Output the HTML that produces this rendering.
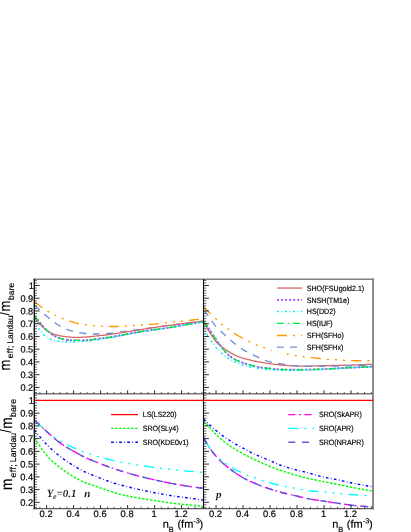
<!DOCTYPE html>
<html><head><meta charset="utf-8"><title>chart</title>
<style>html,body{margin:0;padding:0;background:#fff;}body{width:411px;height:532px;overflow:hidden;position:relative;font-family:"Liberation Sans",sans-serif;}</style>
</head><body>
<svg width="411" height="532" viewBox="0 0 411 532" style="position:absolute;left:0;top:0;will-change:transform" text-rendering="geometricPrecision">
<defs>
<clipPath id="cTL"><rect x="34.2" y="279.3" width="169.39999999999998" height="114.5"/></clipPath>
<clipPath id="cTR"><rect x="203.6" y="279.3" width="169.4" height="114.5"/></clipPath>
<clipPath id="cBL"><rect x="34.2" y="393.8" width="169.39999999999998" height="114.55000000000001"/></clipPath>
<clipPath id="cBR"><rect x="203.6" y="393.8" width="169.4" height="114.55000000000001"/></clipPath>
</defs>
<rect x="0" y="0" width="411" height="532" fill="#fff"/>
<path d="M34.4,305.00 L35.4,305.97 L36.4,306.93 L37.4,307.88 L38.4,308.82 L39.4,309.75 L40.4,310.67 L41.4,311.57 L42.4,312.46 L43.4,313.34 L44.4,314.20 L45.4,315.06 L46.4,315.90 L47.4,316.73 L48.4,317.57 L49.4,318.40 L50.4,319.24 L51.4,320.06 L52.4,320.87 L53.4,321.66 L54.4,322.42 L55.4,323.14 L56.4,323.83 L57.4,324.48 L58.4,325.08 L59.4,325.65 L60.4,326.22 L61.4,326.77 L62.4,327.31 L63.4,327.82 L64.4,328.32 L65.4,328.78 L66.4,329.22 L67.4,329.62 L68.4,329.99 L69.4,330.32 L70.4,330.61 L71.4,330.89 L72.4,331.16 L73.4,331.42 L74.4,331.67 L75.4,331.90 L76.4,332.13 L77.4,332.34 L78.4,332.54 L79.4,332.72 L80.4,332.89 L81.4,333.04 L82.4,333.18 L83.4,333.29 L84.4,333.39 L85.4,333.48 L86.4,333.56 L87.4,333.64 L88.4,333.72 L89.4,333.79 L90.4,333.85 L91.4,333.91 L92.4,333.95 L93.4,333.98 L94.4,334.00 L95.4,334.00 L96.4,333.99 L97.4,333.97 L98.4,333.95 L99.4,333.91 L100.4,333.87 L101.4,333.82 L102.4,333.77 L103.4,333.71 L104.4,333.65 L105.4,333.59 L106.4,333.52 L107.4,333.45 L108.4,333.38 L109.4,333.31 L110.4,333.24 L111.4,333.15 L112.4,333.06 L113.4,332.95 L114.4,332.83 L115.4,332.71 L116.4,332.58 L117.4,332.44 L118.4,332.30 L119.4,332.16 L120.4,332.02 L121.4,331.88 L122.4,331.74 L123.4,331.61 L124.4,331.47 L125.4,331.34 L126.4,331.21 L127.4,331.07 L128.4,330.94 L129.4,330.80 L130.4,330.66 L131.4,330.52 L132.4,330.38 L133.4,330.25 L134.4,330.11 L135.4,329.97 L136.4,329.83 L137.4,329.69 L138.4,329.55 L139.4,329.42 L140.4,329.28 L141.4,329.15 L142.4,329.02 L143.4,328.88 L144.4,328.75 L145.4,328.62 L146.4,328.48 L147.4,328.35 L148.4,328.22 L149.4,328.08 L150.4,327.95 L151.4,327.81 L152.4,327.67 L153.4,327.54 L154.4,327.40 L155.4,327.26 L156.4,327.12 L157.4,326.98 L158.4,326.84 L159.4,326.71 L160.4,326.57 L161.4,326.43 L162.4,326.30 L163.4,326.16 L164.4,326.03 L165.4,325.89 L166.4,325.76 L167.4,325.63 L168.4,325.50 L169.4,325.37 L170.4,325.24 L171.4,325.11 L172.4,324.98 L173.4,324.85 L174.4,324.72 L175.4,324.59 L176.4,324.46 L177.4,324.33 L178.4,324.20 L179.4,324.07 L180.4,323.94 L181.4,323.81 L182.4,323.68 L183.4,323.54 L184.4,323.41 L185.4,323.28 L186.4,323.14 L187.4,323.01 L188.4,322.88 L189.4,322.75 L190.4,322.62 L191.4,322.50 L192.4,322.37 L193.4,322.25 L194.4,322.13 L195.4,322.01 L196.4,321.89 L197.4,321.78 L198.4,321.67 L199.4,321.55 L200.4,321.44 L201.4,321.33 L202.4,321.23 L203.4,321.12 L203.6,321.10" fill="none" stroke="#6f8fd8" stroke-width="1.35" stroke-dasharray="7.140 6.324" clip-path="url(#cTL)"/>
<path d="M34.4,301.60 L35.4,302.40 L36.4,303.20 L37.4,303.98 L38.4,304.74 L39.4,305.49 L40.4,306.22 L41.4,306.94 L42.4,307.63 L43.4,308.30 L44.4,308.97 L45.4,309.64 L46.4,310.29 L47.4,310.94 L48.4,311.57 L49.4,312.19 L50.4,312.80 L51.4,313.38 L52.4,313.95 L53.4,314.49 L54.4,315.01 L55.4,315.50 L56.4,315.97 L57.4,316.43 L58.4,316.88 L59.4,317.31 L60.4,317.73 L61.4,318.14 L62.4,318.54 L63.4,318.93 L64.4,319.31 L65.4,319.67 L66.4,320.03 L67.4,320.37 L68.4,320.71 L69.4,321.03 L70.4,321.35 L71.4,321.65 L72.4,321.95 L73.4,322.24 L74.4,322.53 L75.4,322.80 L76.4,323.05 L77.4,323.29 L78.4,323.51 L79.4,323.70 L80.4,323.88 L81.4,324.06 L82.4,324.23 L83.4,324.40 L84.4,324.57 L85.4,324.72 L86.4,324.88 L87.4,325.02 L88.4,325.16 L89.4,325.28 L90.4,325.40 L91.4,325.51 L92.4,325.60 L93.4,325.69 L94.4,325.76 L95.4,325.82 L96.4,325.88 L97.4,325.94 L98.4,325.99 L99.4,326.05 L100.4,326.10 L101.4,326.15 L102.4,326.20 L103.4,326.24 L104.4,326.29 L105.4,326.33 L106.4,326.36 L107.4,326.39 L108.4,326.42 L109.4,326.45 L110.4,326.47 L111.4,326.48 L112.4,326.49 L113.4,326.50 L114.4,326.50 L115.4,326.49 L116.4,326.47 L117.4,326.44 L118.4,326.41 L119.4,326.37 L120.4,326.32 L121.4,326.27 L122.4,326.21 L123.4,326.14 L124.4,326.08 L125.4,326.01 L126.4,325.94 L127.4,325.87 L128.4,325.80 L129.4,325.72 L130.4,325.65 L131.4,325.59 L132.4,325.52 L133.4,325.46 L134.4,325.40 L135.4,325.34 L136.4,325.29 L137.4,325.24 L138.4,325.19 L139.4,325.13 L140.4,325.08 L141.4,325.03 L142.4,324.98 L143.4,324.92 L144.4,324.86 L145.4,324.81 L146.4,324.75 L147.4,324.68 L148.4,324.61 L149.4,324.54 L150.4,324.47 L151.4,324.39 L152.4,324.30 L153.4,324.20 L154.4,324.10 L155.4,324.00 L156.4,323.89 L157.4,323.77 L158.4,323.66 L159.4,323.54 L160.4,323.43 L161.4,323.31 L162.4,323.19 L163.4,323.08 L164.4,322.97 L165.4,322.86 L166.4,322.76 L167.4,322.66 L168.4,322.56 L169.4,322.46 L170.4,322.36 L171.4,322.26 L172.4,322.17 L173.4,322.07 L174.4,321.97 L175.4,321.88 L176.4,321.78 L177.4,321.68 L178.4,321.58 L179.4,321.48 L180.4,321.38 L181.4,321.27 L182.4,321.17 L183.4,321.06 L184.4,320.95 L185.4,320.84 L186.4,320.72 L187.4,320.60 L188.4,320.49 L189.4,320.37 L190.4,320.25 L191.4,320.13 L192.4,320.01 L193.4,319.90 L194.4,319.78 L195.4,319.66 L196.4,319.55 L197.4,319.44 L198.4,319.33 L199.4,319.22 L200.4,319.12 L201.4,319.02 L202.4,318.92 L203.4,318.82 L203.6,318.80" fill="none" stroke="#ff9900" stroke-width="1.35" stroke-dasharray="10.1 6 2.1 5.9 2.1 5.9 2.1 5.9" clip-path="url(#cTL)"/>
<path d="M34.4,317.50 L35.4,318.80 L36.4,320.06 L37.4,321.27 L38.4,322.44 L39.4,323.55 L40.4,324.61 L41.4,325.64 L42.4,326.66 L43.4,327.65 L44.4,328.58 L45.4,329.44 L46.4,330.20 L47.4,330.85 L48.4,331.46 L49.4,332.03 L50.4,332.57 L51.4,333.07 L52.4,333.54 L53.4,333.95 L54.4,334.32 L55.4,334.64 L56.4,334.92 L57.4,335.18 L58.4,335.42 L59.4,335.64 L60.4,335.84 L61.4,336.02 L62.4,336.18 L63.4,336.32 L64.4,336.45 L65.4,336.57 L66.4,336.69 L67.4,336.81 L68.4,336.92 L69.4,337.02 L70.4,337.12 L71.4,337.20 L72.4,337.28 L73.4,337.33 L74.4,337.37 L75.4,337.40 L76.4,337.40 L77.4,337.39 L78.4,337.37 L79.4,337.34 L80.4,337.30 L81.4,337.26 L82.4,337.21 L83.4,337.16 L84.4,337.10 L85.4,337.05 L86.4,336.99 L87.4,336.92 L88.4,336.83 L89.4,336.73 L90.4,336.63 L91.4,336.51 L92.4,336.39 L93.4,336.28 L94.4,336.16 L95.4,336.06 L96.4,335.95 L97.4,335.85 L98.4,335.75 L99.4,335.64 L100.4,335.54 L101.4,335.44 L102.4,335.33 L103.4,335.23 L104.4,335.12 L105.4,335.01 L106.4,334.89 L107.4,334.77 L108.4,334.65 L109.4,334.53 L110.4,334.39 L111.4,334.25 L112.4,334.11 L113.4,333.96 L114.4,333.80 L115.4,333.64 L116.4,333.48 L117.4,333.31 L118.4,333.15 L119.4,332.98 L120.4,332.81 L121.4,332.65 L122.4,332.48 L123.4,332.32 L124.4,332.17 L125.4,332.02 L126.4,331.87 L127.4,331.72 L128.4,331.57 L129.4,331.42 L130.4,331.27 L131.4,331.13 L132.4,330.98 L133.4,330.83 L134.4,330.68 L135.4,330.53 L136.4,330.38 L137.4,330.22 L138.4,330.06 L139.4,329.90 L140.4,329.74 L141.4,329.57 L142.4,329.39 L143.4,329.22 L144.4,329.04 L145.4,328.87 L146.4,328.70 L147.4,328.52 L148.4,328.36 L149.4,328.19 L150.4,328.04 L151.4,327.88 L152.4,327.73 L153.4,327.58 L154.4,327.43 L155.4,327.29 L156.4,327.14 L157.4,327.00 L158.4,326.86 L159.4,326.72 L160.4,326.58 L161.4,326.44 L162.4,326.30 L163.4,326.16 L164.4,326.03 L165.4,325.89 L166.4,325.76 L167.4,325.62 L168.4,325.49 L169.4,325.36 L170.4,325.23 L171.4,325.10 L172.4,324.97 L173.4,324.85 L174.4,324.72 L175.4,324.59 L176.4,324.46 L177.4,324.33 L178.4,324.20 L179.4,324.07 L180.4,323.94 L181.4,323.81 L182.4,323.68 L183.4,323.54 L184.4,323.41 L185.4,323.28 L186.4,323.14 L187.4,323.01 L188.4,322.88 L189.4,322.75 L190.4,322.62 L191.4,322.50 L192.4,322.37 L193.4,322.25 L194.4,322.13 L195.4,322.01 L196.4,321.89 L197.4,321.78 L198.4,321.67 L199.4,321.55 L200.4,321.44 L201.4,321.33 L202.4,321.23 L203.4,321.12 L203.6,321.10" fill="none" stroke="#d46a6a" stroke-width="1.3" clip-path="url(#cTL)"/>
<path d="M34.4,316.20 L35.4,317.36 L36.4,318.52 L37.4,319.68 L38.4,320.83 L39.4,321.98 L40.4,323.13 L41.4,324.32 L42.4,325.53 L43.4,326.75 L44.4,327.93 L45.4,329.04 L46.4,330.06 L47.4,330.94 L48.4,331.78 L49.4,332.58 L50.4,333.34 L51.4,334.05 L52.4,334.72 L53.4,335.34 L54.4,335.90 L55.4,336.41 L56.4,336.86 L57.4,337.31 L58.4,337.73 L59.4,338.12 L60.4,338.48 L61.4,338.80 L62.4,339.08 L63.4,339.30 L64.4,339.46 L65.4,339.61 L66.4,339.76 L67.4,339.89 L68.4,340.01 L69.4,340.13 L70.4,340.22 L71.4,340.30 L72.4,340.35 L73.4,340.39 L74.4,340.40 L75.4,340.40 L76.4,340.40 L77.4,340.39 L78.4,340.39 L79.4,340.38 L80.4,340.37 L81.4,340.36 L82.4,340.35 L83.4,340.34 L84.4,340.33 L85.4,340.31 L86.4,340.30 L87.4,340.25 L88.4,340.16 L89.4,340.04 L90.4,339.90 L91.4,339.75 L92.4,339.59 L93.4,339.43 L94.4,339.28 L95.4,339.15 L96.4,339.02 L97.4,338.90 L98.4,338.78 L99.4,338.65 L100.4,338.53 L101.4,338.41 L102.4,338.28 L103.4,338.16 L104.4,338.03 L105.4,337.90 L106.4,337.76 L107.4,337.62 L108.4,337.48 L109.4,337.33 L110.4,337.17 L111.4,337.01 L112.4,336.84 L113.4,336.66 L114.4,336.48 L115.4,336.29 L116.4,336.10 L117.4,335.91 L118.4,335.71 L119.4,335.51 L120.4,335.32 L121.4,335.13 L122.4,334.93 L123.4,334.75 L124.4,334.56 L125.4,334.38 L126.4,334.20 L127.4,334.02 L128.4,333.83 L129.4,333.65 L130.4,333.47 L131.4,333.29 L132.4,333.10 L133.4,332.93 L134.4,332.75 L135.4,332.57 L136.4,332.40 L137.4,332.23 L138.4,332.07 L139.4,331.90 L140.4,331.74 L141.4,331.58 L142.4,331.43 L143.4,331.28 L144.4,331.12 L145.4,330.97 L146.4,330.83 L147.4,330.68 L148.4,330.53 L149.4,330.39 L150.4,330.24 L151.4,330.10 L152.4,329.96 L153.4,329.83 L154.4,329.69 L155.4,329.56 L156.4,329.43 L157.4,329.30 L158.4,329.16 L159.4,329.03 L160.4,328.90 L161.4,328.76 L162.4,328.62 L163.4,328.48 L164.4,328.33 L165.4,328.18 L166.4,328.03 L167.4,327.87 L168.4,327.71 L169.4,327.55 L170.4,327.38 L171.4,327.22 L172.4,327.05 L173.4,326.88 L174.4,326.71 L175.4,326.54 L176.4,326.37 L177.4,326.20 L178.4,326.03 L179.4,325.87 L180.4,325.70 L181.4,325.53 L182.4,325.36 L183.4,325.18 L184.4,325.01 L185.4,324.84 L186.4,324.67 L187.4,324.49 L188.4,324.32 L189.4,324.15 L190.4,323.98 L191.4,323.80 L192.4,323.64 L193.4,323.47 L194.4,323.30 L195.4,323.13 L196.4,322.97 L197.4,322.80 L198.4,322.64 L199.4,322.48 L200.4,322.32 L201.4,322.15 L202.4,321.99 L203.4,321.83 L203.6,321.80" fill="none" stroke="#a550ff" stroke-width="1.9" stroke-dasharray="2.1 1.95" clip-path="url(#cTL)"/>
<path d="M34.4,321.20 L35.4,323.07 L36.4,324.86 L37.4,326.54 L38.4,328.11 L39.4,329.55 L40.4,330.85 L41.4,332.07 L42.4,333.25 L43.4,334.36 L44.4,335.37 L45.4,336.27 L46.4,337.02 L47.4,337.63 L48.4,338.17 L49.4,338.68 L50.4,339.15 L51.4,339.57 L52.4,339.95 L53.4,340.27 L54.4,340.55 L55.4,340.76 L56.4,340.94 L57.4,341.11 L58.4,341.27 L59.4,341.42 L60.4,341.57 L61.4,341.69 L62.4,341.81 L63.4,341.91 L64.4,341.99 L65.4,342.05 L66.4,342.09 L67.4,342.10 L68.4,342.10 L69.4,342.09 L70.4,342.07 L71.4,342.04 L72.4,342.01 L73.4,341.98 L74.4,341.94 L75.4,341.89 L76.4,341.85 L77.4,341.80 L78.4,341.74 L79.4,341.69 L80.4,341.64 L81.4,341.58 L82.4,341.52 L83.4,341.45 L84.4,341.37 L85.4,341.28 L86.4,341.19 L87.4,341.09 L88.4,340.98 L89.4,340.87 L90.4,340.76 L91.4,340.64 L92.4,340.52 L93.4,340.40 L94.4,340.27 L95.4,340.15 L96.4,340.02 L97.4,339.89 L98.4,339.75 L99.4,339.60 L100.4,339.45 L101.4,339.29 L102.4,339.13 L103.4,338.97 L104.4,338.80 L105.4,338.63 L106.4,338.46 L107.4,338.29 L108.4,338.11 L109.4,337.94 L110.4,337.76 L111.4,337.57 L112.4,337.38 L113.4,337.19 L114.4,336.99 L115.4,336.79 L116.4,336.58 L117.4,336.38 L118.4,336.17 L119.4,335.96 L120.4,335.76 L121.4,335.55 L122.4,335.35 L123.4,335.15 L124.4,334.96 L125.4,334.77 L126.4,334.58 L127.4,334.39 L128.4,334.21 L129.4,334.02 L130.4,333.83 L131.4,333.65 L132.4,333.47 L133.4,333.28 L134.4,333.10 L135.4,332.92 L136.4,332.74 L137.4,332.55 L138.4,332.37 L139.4,332.19 L140.4,332.01 L141.4,331.82 L142.4,331.63 L143.4,331.45 L144.4,331.26 L145.4,331.08 L146.4,330.90 L147.4,330.73 L148.4,330.56 L149.4,330.39 L150.4,330.24 L151.4,330.09 L152.4,329.94 L153.4,329.80 L154.4,329.67 L155.4,329.54 L156.4,329.40 L157.4,329.28 L158.4,329.15 L159.4,329.02 L160.4,328.89 L161.4,328.75 L162.4,328.62 L163.4,328.48 L164.4,328.33 L165.4,328.18 L166.4,328.03 L167.4,327.87 L168.4,327.71 L169.4,327.55 L170.4,327.38 L171.4,327.22 L172.4,327.05 L173.4,326.88 L174.4,326.71 L175.4,326.54 L176.4,326.37 L177.4,326.20 L178.4,326.03 L179.4,325.87 L180.4,325.70 L181.4,325.53 L182.4,325.36 L183.4,325.18 L184.4,325.01 L185.4,324.84 L186.4,324.67 L187.4,324.49 L188.4,324.32 L189.4,324.15 L190.4,323.98 L191.4,323.80 L192.4,323.64 L193.4,323.47 L194.4,323.30 L195.4,323.13 L196.4,322.97 L197.4,322.80 L198.4,322.64 L199.4,322.48 L200.4,322.32 L201.4,322.15 L202.4,321.99 L203.4,321.83 L203.6,321.80" fill="none" stroke="#00f0ff" stroke-width="1.5" stroke-dasharray="2.1 2.5 0.8 2.55" clip-path="url(#cTL)"/>
<path d="M34.4,315.60 L35.4,316.91 L36.4,318.20 L37.4,319.47 L38.4,320.71 L39.4,321.94 L40.4,323.14 L41.4,324.36 L42.4,325.58 L43.4,326.79 L44.4,327.96 L45.4,329.06 L46.4,330.06 L47.4,330.94 L48.4,331.78 L49.4,332.58 L50.4,333.34 L51.4,334.05 L52.4,334.72 L53.4,335.34 L54.4,335.90 L55.4,336.41 L56.4,336.86 L57.4,337.31 L58.4,337.73 L59.4,338.12 L60.4,338.48 L61.4,338.80 L62.4,339.08 L63.4,339.30 L64.4,339.46 L65.4,339.61 L66.4,339.76 L67.4,339.89 L68.4,340.01 L69.4,340.13 L70.4,340.22 L71.4,340.30 L72.4,340.35 L73.4,340.39 L74.4,340.40 L75.4,340.40 L76.4,340.40 L77.4,340.39 L78.4,340.39 L79.4,340.38 L80.4,340.37 L81.4,340.36 L82.4,340.35 L83.4,340.34 L84.4,340.33 L85.4,340.31 L86.4,340.30 L87.4,340.25 L88.4,340.16 L89.4,340.04 L90.4,339.90 L91.4,339.75 L92.4,339.59 L93.4,339.43 L94.4,339.28 L95.4,339.15 L96.4,339.02 L97.4,338.90 L98.4,338.78 L99.4,338.65 L100.4,338.53 L101.4,338.41 L102.4,338.28 L103.4,338.16 L104.4,338.03 L105.4,337.90 L106.4,337.76 L107.4,337.62 L108.4,337.48 L109.4,337.33 L110.4,337.17 L111.4,337.01 L112.4,336.84 L113.4,336.66 L114.4,336.48 L115.4,336.29 L116.4,336.10 L117.4,335.91 L118.4,335.71 L119.4,335.51 L120.4,335.32 L121.4,335.13 L122.4,334.93 L123.4,334.75 L124.4,334.56 L125.4,334.38 L126.4,334.20 L127.4,334.02 L128.4,333.83 L129.4,333.65 L130.4,333.47 L131.4,333.29 L132.4,333.10 L133.4,332.93 L134.4,332.75 L135.4,332.57 L136.4,332.40 L137.4,332.23 L138.4,332.07 L139.4,331.90 L140.4,331.74 L141.4,331.58 L142.4,331.43 L143.4,331.28 L144.4,331.12 L145.4,330.97 L146.4,330.83 L147.4,330.68 L148.4,330.53 L149.4,330.39 L150.4,330.24 L151.4,330.10 L152.4,329.96 L153.4,329.83 L154.4,329.69 L155.4,329.56 L156.4,329.43 L157.4,329.30 L158.4,329.16 L159.4,329.03 L160.4,328.90 L161.4,328.76 L162.4,328.62 L163.4,328.48 L164.4,328.33 L165.4,328.18 L166.4,328.03 L167.4,327.87 L168.4,327.71 L169.4,327.55 L170.4,327.38 L171.4,327.22 L172.4,327.05 L173.4,326.88 L174.4,326.71 L175.4,326.54 L176.4,326.37 L177.4,326.20 L178.4,326.03 L179.4,325.87 L180.4,325.70 L181.4,325.53 L182.4,325.36 L183.4,325.18 L184.4,325.01 L185.4,324.84 L186.4,324.67 L187.4,324.49 L188.4,324.32 L189.4,324.15 L190.4,323.98 L191.4,323.80 L192.4,323.64 L193.4,323.47 L194.4,323.30 L195.4,323.13 L196.4,322.97 L197.4,322.80 L198.4,322.64 L199.4,322.48 L200.4,322.32 L201.4,322.15 L202.4,321.99 L203.4,321.83 L203.6,321.80" fill="none" stroke="#00ea3c" stroke-width="1.35" stroke-dasharray="7 3.8 1.3 4" clip-path="url(#cTL)"/>
<path d="M203.6,306.80 L204.6,307.88 L205.6,308.94 L206.6,309.99 L207.6,311.02 L208.6,312.03 L209.6,313.02 L210.6,313.98 L211.6,314.92 L212.6,315.84 L213.6,316.74 L214.6,317.64 L215.6,318.55 L216.6,319.48 L217.6,320.45 L218.6,321.44 L219.6,322.43 L220.6,323.39 L221.6,324.28 L222.6,325.10 L223.6,325.86 L224.6,326.58 L225.6,327.27 L226.6,327.95 L227.6,328.62 L228.6,329.30 L229.6,329.99 L230.6,330.69 L231.6,331.39 L232.6,332.08 L233.6,332.77 L234.6,333.44 L235.6,334.11 L236.6,334.75 L237.6,335.38 L238.6,335.98 L239.6,336.56 L240.6,337.13 L241.6,337.69 L242.6,338.24 L243.6,338.78 L244.6,339.30 L245.6,339.82 L246.6,340.33 L247.6,340.82 L248.6,341.31 L249.6,341.80 L250.6,342.27 L251.6,342.73 L252.6,343.18 L253.6,343.62 L254.6,344.05 L255.6,344.48 L256.6,344.89 L257.6,345.30 L258.6,345.71 L259.6,346.10 L260.6,346.49 L261.6,346.87 L262.6,347.24 L263.6,347.61 L264.6,347.96 L265.6,348.32 L266.6,348.67 L267.6,349.01 L268.6,349.35 L269.6,349.67 L270.6,349.98 L271.6,350.28 L272.6,350.56 L273.6,350.85 L274.6,351.13 L275.6,351.41 L276.6,351.68 L277.6,351.95 L278.6,352.21 L279.6,352.46 L280.6,352.71 L281.6,352.96 L282.6,353.19 L283.6,353.42 L284.6,353.64 L285.6,353.86 L286.6,354.06 L287.6,354.26 L288.6,354.44 L289.6,354.62 L290.6,354.79 L291.6,354.95 L292.6,355.11 L293.6,355.26 L294.6,355.42 L295.6,355.57 L296.6,355.72 L297.6,355.88 L298.6,356.03 L299.6,356.18 L300.6,356.32 L301.6,356.46 L302.6,356.60 L303.6,356.73 L304.6,356.85 L305.6,356.97 L306.6,357.08 L307.6,357.19 L308.6,357.30 L309.6,357.41 L310.6,357.51 L311.6,357.62 L312.6,357.72 L313.6,357.82 L314.6,357.93 L315.6,358.04 L316.6,358.14 L317.6,358.26 L318.6,358.38 L319.6,358.50 L320.6,358.62 L321.6,358.74 L322.6,358.85 L323.6,358.96 L324.6,359.07 L325.6,359.16 L326.6,359.25 L327.6,359.32 L328.6,359.38 L329.6,359.44 L330.6,359.50 L331.6,359.54 L332.6,359.59 L333.6,359.64 L334.6,359.68 L335.6,359.73 L336.6,359.78 L337.6,359.83 L338.6,359.89 L339.6,359.95 L340.6,360.02 L341.6,360.09 L342.6,360.16 L343.6,360.23 L344.6,360.30 L345.6,360.37 L346.6,360.43 L347.6,360.49 L348.6,360.55 L349.6,360.59 L350.6,360.63 L351.6,360.67 L352.6,360.69 L353.6,360.70 L354.6,360.70 L355.6,360.70 L356.6,360.70 L357.6,360.70 L358.6,360.70 L359.6,360.70 L360.6,360.70 L361.6,360.70 L362.6,360.70 L363.6,360.70 L364.6,360.70 L365.6,360.70 L366.6,360.70 L367.6,360.70 L368.6,360.70 L369.6,360.70 L370.6,360.70 L371.6,360.70 L372.6,360.70 L373.1,360.70" fill="none" stroke="#ff9900" stroke-width="1.35" stroke-dasharray="10.211 6.066 2.123 5.965 2.123 5.965 2.123 5.965" clip-path="url(#cTR)"/>
<path d="M203.6,322.10 L204.6,323.93 L205.6,325.72 L206.6,327.46 L207.6,329.15 L208.6,330.79 L209.6,332.38 L210.6,333.91 L211.6,335.44 L212.6,336.96 L213.6,338.43 L214.6,339.83 L215.6,341.12 L216.6,342.28 L217.6,343.30 L218.6,344.23 L219.6,345.10 L220.6,345.91 L221.6,346.68 L222.6,347.41 L223.6,348.12 L224.6,348.81 L225.6,349.50 L226.6,350.19 L227.6,350.86 L228.6,351.52 L229.6,352.16 L230.6,352.78 L231.6,353.37 L232.6,353.93 L233.6,354.45 L234.6,354.94 L235.6,355.40 L236.6,355.85 L237.6,356.27 L238.6,356.68 L239.6,357.07 L240.6,357.43 L241.6,357.78 L242.6,358.10 L243.6,358.41 L244.6,358.69 L245.6,358.97 L246.6,359.23 L247.6,359.48 L248.6,359.72 L249.6,359.96 L250.6,360.19 L251.6,360.41 L252.6,360.63 L253.6,360.84 L254.6,361.05 L255.6,361.25 L256.6,361.44 L257.6,361.63 L258.6,361.82 L259.6,362.00 L260.6,362.18 L261.6,362.35 L262.6,362.53 L263.6,362.70 L264.6,362.86 L265.6,363.02 L266.6,363.18 L267.6,363.33 L268.6,363.48 L269.6,363.62 L270.6,363.75 L271.6,363.89 L272.6,364.02 L273.6,364.15 L274.6,364.28 L275.6,364.41 L276.6,364.53 L277.6,364.65 L278.6,364.77 L279.6,364.88 L280.6,364.99 L281.6,365.08 L282.6,365.18 L283.6,365.26 L284.6,365.33 L285.6,365.40 L286.6,365.46 L287.6,365.52 L288.6,365.58 L289.6,365.64 L290.6,365.70 L291.6,365.75 L292.6,365.80 L293.6,365.85 L294.6,365.90 L295.6,365.94 L296.6,365.98 L297.6,366.02 L298.6,366.05 L299.6,366.07 L300.6,366.09 L301.6,366.10 L302.6,366.10 L303.6,366.10 L304.6,366.09 L305.6,366.09 L306.6,366.08 L307.6,366.07 L308.6,366.05 L309.6,366.04 L310.6,366.02 L311.6,366.00 L312.6,365.98 L313.6,365.96 L314.6,365.93 L315.6,365.91 L316.6,365.89 L317.6,365.86 L318.6,365.83 L319.6,365.81 L320.6,365.78 L321.6,365.76 L322.6,365.73 L323.6,365.70 L324.6,365.68 L325.6,365.65 L326.6,365.63 L327.6,365.61 L328.6,365.59 L329.6,365.57 L330.6,365.55 L331.6,365.52 L332.6,365.50 L333.6,365.48 L334.6,365.46 L335.6,365.44 L336.6,365.42 L337.6,365.39 L338.6,365.37 L339.6,365.35 L340.6,365.32 L341.6,365.30 L342.6,365.28 L343.6,365.25 L344.6,365.23 L345.6,365.20 L346.6,365.17 L347.6,365.15 L348.6,365.12 L349.6,365.09 L350.6,365.06 L351.6,365.03 L352.6,365.00 L353.6,364.97 L354.6,364.94 L355.6,364.91 L356.6,364.88 L357.6,364.85 L358.6,364.82 L359.6,364.78 L360.6,364.75 L361.6,364.72 L362.6,364.68 L363.6,364.65 L364.6,364.61 L365.6,364.58 L366.6,364.54 L367.6,364.51 L368.6,364.47 L369.6,364.43 L370.6,364.40 L371.6,364.36 L372.6,364.32 L373.1,364.30" fill="none" stroke="#d46a6a" stroke-width="1.3" clip-path="url(#cTR)"/>
<path d="M203.6,310.20 L204.6,311.30 L205.6,312.44 L206.6,313.63 L207.6,314.87 L208.6,316.21 L209.6,317.65 L210.6,319.16 L211.6,320.68 L212.6,322.17 L213.6,323.56 L214.6,324.82 L215.6,325.97 L216.6,327.06 L217.6,328.10 L218.6,329.11 L219.6,330.08 L220.6,331.03 L221.6,331.96 L222.6,332.89 L223.6,333.82 L224.6,334.76 L225.6,335.69 L226.6,336.61 L227.6,337.53 L228.6,338.43 L229.6,339.32 L230.6,340.19 L231.6,341.05 L232.6,341.89 L233.6,342.70 L234.6,343.49 L235.6,344.28 L236.6,345.05 L237.6,345.81 L238.6,346.56 L239.6,347.29 L240.6,348.00 L241.6,348.68 L242.6,349.34 L243.6,349.98 L244.6,350.58 L245.6,351.16 L246.6,351.71 L247.6,352.26 L248.6,352.78 L249.6,353.29 L250.6,353.79 L251.6,354.27 L252.6,354.75 L253.6,355.22 L254.6,355.68 L255.6,356.13 L256.6,356.58 L257.6,357.04 L258.6,357.49 L259.6,357.95 L260.6,358.40 L261.6,358.85 L262.6,359.28 L263.6,359.69 L264.6,360.08 L265.6,360.45 L266.6,360.79 L267.6,361.10 L268.6,361.38 L269.6,361.63 L270.6,361.87 L271.6,362.10 L272.6,362.31 L273.6,362.51 L274.6,362.70 L275.6,362.89 L276.6,363.07 L277.6,363.24 L278.6,363.40 L279.6,363.57 L280.6,363.73 L281.6,363.90 L282.6,364.06 L283.6,364.23 L284.6,364.40 L285.6,364.56 L286.6,364.72 L287.6,364.88 L288.6,365.03 L289.6,365.17 L290.6,365.30 L291.6,365.43 L292.6,365.54 L293.6,365.64 L294.6,365.72 L295.6,365.79 L296.6,365.85 L297.6,365.90 L298.6,365.96 L299.6,366.01 L300.6,366.06 L301.6,366.10 L302.6,366.15 L303.6,366.19 L304.6,366.22 L305.6,366.25 L306.6,366.27 L307.6,366.29 L308.6,366.30 L309.6,366.30 L310.6,366.30 L311.6,366.30 L312.6,366.30 L313.6,366.29 L314.6,366.29 L315.6,366.29 L316.6,366.28 L317.6,366.28 L318.6,366.27 L319.6,366.26 L320.6,366.26 L321.6,366.25 L322.6,366.24 L323.6,366.24 L324.6,366.23 L325.6,366.22 L326.6,366.21 L327.6,366.20 L328.6,366.19 L329.6,366.19 L330.6,366.17 L331.6,366.16 L332.6,366.15 L333.6,366.13 L334.6,366.12 L335.6,366.10 L336.6,366.08 L337.6,366.07 L338.6,366.05 L339.6,366.03 L340.6,366.01 L341.6,365.99 L342.6,365.96 L343.6,365.94 L344.6,365.92 L345.6,365.90 L346.6,365.88 L347.6,365.85 L348.6,365.83 L349.6,365.81 L350.6,365.78 L351.6,365.75 L352.6,365.73 L353.6,365.70 L354.6,365.67 L355.6,365.64 L356.6,365.61 L357.6,365.58 L358.6,365.54 L359.6,365.51 L360.6,365.48 L361.6,365.44 L362.6,365.41 L363.6,365.37 L364.6,365.34 L365.6,365.30 L366.6,365.26 L367.6,365.22 L368.6,365.18 L369.6,365.14 L370.6,365.10 L371.6,365.06 L372.6,365.02 L373.1,365.00" fill="none" stroke="#6f8fd8" stroke-width="1.35" stroke-dasharray="7.126 6.312" clip-path="url(#cTR)"/>
<path d="M203.6,321.30 L204.6,322.69 L205.6,324.10 L206.6,325.51 L207.6,326.94 L208.6,328.38 L209.6,329.83 L210.6,331.29 L211.6,332.79 L212.6,334.31 L213.6,335.85 L214.6,337.37 L215.6,338.87 L216.6,340.33 L217.6,341.74 L218.6,343.10 L219.6,344.44 L220.6,345.75 L221.6,347.05 L222.6,348.36 L223.6,349.69 L224.6,350.97 L225.6,352.10 L226.6,353.10 L227.6,354.05 L228.6,354.96 L229.6,355.82 L230.6,356.63 L231.6,357.38 L232.6,358.08 L233.6,358.71 L234.6,359.28 L235.6,359.80 L236.6,360.29 L237.6,360.75 L238.6,361.17 L239.6,361.58 L240.6,361.97 L241.6,362.34 L242.6,362.70 L243.6,363.05 L244.6,363.39 L245.6,363.71 L246.6,364.02 L247.6,364.32 L248.6,364.61 L249.6,364.89 L250.6,365.17 L251.6,365.43 L252.6,365.70 L253.6,365.97 L254.6,366.23 L255.6,366.48 L256.6,366.71 L257.6,366.93 L258.6,367.13 L259.6,367.30 L260.6,367.45 L261.6,367.58 L262.6,367.70 L263.6,367.82 L264.6,367.92 L265.6,368.03 L266.6,368.13 L267.6,368.24 L268.6,368.36 L269.6,368.48 L270.6,368.62 L271.6,368.75 L272.6,368.88 L273.6,369.00 L274.6,369.11 L275.6,369.21 L276.6,369.28 L277.6,369.33 L278.6,369.38 L279.6,369.42 L280.6,369.47 L281.6,369.51 L282.6,369.55 L283.6,369.59 L284.6,369.63 L285.6,369.66 L286.6,369.69 L287.6,369.72 L288.6,369.74 L289.6,369.76 L290.6,369.78 L291.6,369.79 L292.6,369.80 L293.6,369.80 L294.6,369.80 L295.6,369.80 L296.6,369.79 L297.6,369.78 L298.6,369.77 L299.6,369.75 L300.6,369.74 L301.6,369.72 L302.6,369.70 L303.6,369.68 L304.6,369.65 L305.6,369.63 L306.6,369.61 L307.6,369.58 L308.6,369.56 L309.6,369.53 L310.6,369.51 L311.6,369.49 L312.6,369.46 L313.6,369.43 L314.6,369.40 L315.6,369.37 L316.6,369.34 L317.6,369.31 L318.6,369.27 L319.6,369.24 L320.6,369.20 L321.6,369.16 L322.6,369.12 L323.6,369.09 L324.6,369.04 L325.6,369.00 L326.6,368.96 L327.6,368.92 L328.6,368.87 L329.6,368.83 L330.6,368.78 L331.6,368.72 L332.6,368.67 L333.6,368.61 L334.6,368.55 L335.6,368.49 L336.6,368.43 L337.6,368.37 L338.6,368.31 L339.6,368.25 L340.6,368.19 L341.6,368.13 L342.6,368.07 L343.6,368.01 L344.6,367.95 L345.6,367.90 L346.6,367.85 L347.6,367.80 L348.6,367.75 L349.6,367.69 L350.6,367.64 L351.6,367.59 L352.6,367.54 L353.6,367.49 L354.6,367.44 L355.6,367.39 L356.6,367.35 L357.6,367.30 L358.6,367.25 L359.6,367.20 L360.6,367.15 L361.6,367.11 L362.6,367.06 L363.6,367.02 L364.6,366.97 L365.6,366.92 L366.6,366.88 L367.6,366.84 L368.6,366.79 L369.6,366.75 L370.6,366.71 L371.6,366.66 L372.6,366.62 L373.1,366.60" fill="none" stroke="#a550ff" stroke-width="1.9" stroke-dasharray="2.1 1.95" clip-path="url(#cTR)"/>
<path d="M203.6,326.50 L204.6,328.89 L205.6,331.14 L206.6,333.20 L207.6,335.11 L208.6,336.89 L209.6,338.56 L210.6,340.10 L211.6,341.50 L212.6,342.81 L213.6,344.10 L214.6,345.44 L215.6,346.90 L216.6,348.31 L217.6,349.46 L218.6,350.52 L219.6,351.50 L220.6,352.43 L221.6,353.30 L222.6,354.13 L223.6,354.92 L224.6,355.67 L225.6,356.40 L226.6,357.10 L227.6,357.78 L228.6,358.43 L229.6,359.05 L230.6,359.64 L231.6,360.21 L232.6,360.75 L233.6,361.26 L234.6,361.74 L235.6,362.20 L236.6,362.64 L237.6,363.07 L238.6,363.48 L239.6,363.86 L240.6,364.23 L241.6,364.58 L242.6,364.90 L243.6,365.21 L244.6,365.50 L245.6,365.77 L246.6,366.04 L247.6,366.29 L248.6,366.53 L249.6,366.77 L250.6,366.99 L251.6,367.21 L252.6,367.42 L253.6,367.63 L254.6,367.84 L255.6,368.04 L256.6,368.22 L257.6,368.40 L258.6,368.56 L259.6,368.70 L260.6,368.83 L261.6,368.95 L262.6,369.07 L263.6,369.18 L264.6,369.28 L265.6,369.38 L266.6,369.47 L267.6,369.56 L268.6,369.64 L269.6,369.73 L270.6,369.81 L271.6,369.89 L272.6,369.97 L273.6,370.04 L274.6,370.10 L275.6,370.15 L276.6,370.19 L277.6,370.21 L278.6,370.23 L279.6,370.25 L280.6,370.27 L281.6,370.29 L282.6,370.31 L283.6,370.32 L284.6,370.33 L285.6,370.35 L286.6,370.36 L287.6,370.37 L288.6,370.38 L289.6,370.38 L290.6,370.39 L291.6,370.40 L292.6,370.40 L293.6,370.40 L294.6,370.40 L295.6,370.39 L296.6,370.38 L297.6,370.36 L298.6,370.34 L299.6,370.32 L300.6,370.29 L301.6,370.26 L302.6,370.22 L303.6,370.19 L304.6,370.15 L305.6,370.11 L306.6,370.07 L307.6,370.03 L308.6,369.99 L309.6,369.95 L310.6,369.91 L311.6,369.88 L312.6,369.84 L313.6,369.80 L314.6,369.76 L315.6,369.72 L316.6,369.67 L317.6,369.63 L318.6,369.58 L319.6,369.53 L320.6,369.48 L321.6,369.43 L322.6,369.38 L323.6,369.33 L324.6,369.28 L325.6,369.23 L326.6,369.17 L327.6,369.12 L328.6,369.07 L329.6,369.01 L330.6,368.95 L331.6,368.89 L332.6,368.83 L333.6,368.76 L334.6,368.70 L335.6,368.63 L336.6,368.56 L337.6,368.50 L338.6,368.43 L339.6,368.37 L340.6,368.30 L341.6,368.24 L342.6,368.17 L343.6,368.11 L344.6,368.06 L345.6,368.00 L346.6,367.95 L347.6,367.89 L348.6,367.84 L349.6,367.79 L350.6,367.73 L351.6,367.68 L352.6,367.63 L353.6,367.58 L354.6,367.53 L355.6,367.48 L356.6,367.43 L357.6,367.38 L358.6,367.33 L359.6,367.28 L360.6,367.23 L361.6,367.19 L362.6,367.14 L363.6,367.10 L364.6,367.05 L365.6,367.01 L366.6,366.96 L367.6,366.92 L368.6,366.88 L369.6,366.84 L370.6,366.80 L371.6,366.76 L372.6,366.72 L373.1,366.70" fill="none" stroke="#00f0ff" stroke-width="1.5" stroke-dasharray="2.1 2.5 0.8 2.55" clip-path="url(#cTR)"/>
<path d="M203.6,321.30 L204.6,322.69 L205.6,324.10 L206.6,325.51 L207.6,326.94 L208.6,328.38 L209.6,329.83 L210.6,331.29 L211.6,332.79 L212.6,334.31 L213.6,335.85 L214.6,337.37 L215.6,338.87 L216.6,340.33 L217.6,341.74 L218.6,343.10 L219.6,344.44 L220.6,345.75 L221.6,347.05 L222.6,348.36 L223.6,349.69 L224.6,350.97 L225.6,352.10 L226.6,353.10 L227.6,354.05 L228.6,354.96 L229.6,355.82 L230.6,356.63 L231.6,357.38 L232.6,358.08 L233.6,358.71 L234.6,359.28 L235.6,359.80 L236.6,360.29 L237.6,360.75 L238.6,361.17 L239.6,361.58 L240.6,361.97 L241.6,362.34 L242.6,362.70 L243.6,363.05 L244.6,363.39 L245.6,363.71 L246.6,364.02 L247.6,364.32 L248.6,364.61 L249.6,364.89 L250.6,365.17 L251.6,365.43 L252.6,365.70 L253.6,365.97 L254.6,366.23 L255.6,366.48 L256.6,366.71 L257.6,366.93 L258.6,367.13 L259.6,367.30 L260.6,367.45 L261.6,367.58 L262.6,367.70 L263.6,367.82 L264.6,367.92 L265.6,368.03 L266.6,368.13 L267.6,368.24 L268.6,368.36 L269.6,368.48 L270.6,368.62 L271.6,368.75 L272.6,368.88 L273.6,369.00 L274.6,369.11 L275.6,369.21 L276.6,369.28 L277.6,369.33 L278.6,369.38 L279.6,369.42 L280.6,369.47 L281.6,369.51 L282.6,369.55 L283.6,369.59 L284.6,369.63 L285.6,369.66 L286.6,369.69 L287.6,369.72 L288.6,369.74 L289.6,369.76 L290.6,369.78 L291.6,369.79 L292.6,369.80 L293.6,369.80 L294.6,369.80 L295.6,369.80 L296.6,369.79 L297.6,369.78 L298.6,369.77 L299.6,369.75 L300.6,369.74 L301.6,369.72 L302.6,369.70 L303.6,369.68 L304.6,369.65 L305.6,369.63 L306.6,369.61 L307.6,369.58 L308.6,369.56 L309.6,369.53 L310.6,369.51 L311.6,369.49 L312.6,369.46 L313.6,369.43 L314.6,369.40 L315.6,369.37 L316.6,369.34 L317.6,369.31 L318.6,369.27 L319.6,369.24 L320.6,369.20 L321.6,369.16 L322.6,369.12 L323.6,369.09 L324.6,369.04 L325.6,369.00 L326.6,368.96 L327.6,368.92 L328.6,368.87 L329.6,368.83 L330.6,368.78 L331.6,368.72 L332.6,368.67 L333.6,368.61 L334.6,368.55 L335.6,368.49 L336.6,368.43 L337.6,368.37 L338.6,368.31 L339.6,368.25 L340.6,368.19 L341.6,368.13 L342.6,368.07 L343.6,368.01 L344.6,367.95 L345.6,367.90 L346.6,367.85 L347.6,367.80 L348.6,367.75 L349.6,367.69 L350.6,367.64 L351.6,367.59 L352.6,367.54 L353.6,367.49 L354.6,367.44 L355.6,367.39 L356.6,367.35 L357.6,367.30 L358.6,367.25 L359.6,367.20 L360.6,367.15 L361.6,367.11 L362.6,367.06 L363.6,367.02 L364.6,366.97 L365.6,366.92 L366.6,366.88 L367.6,366.84 L368.6,366.79 L369.6,366.75 L370.6,366.71 L371.6,366.66 L372.6,366.62 L373.1,366.60" fill="none" stroke="#00ea3c" stroke-width="1.35" stroke-dasharray="7 3.8 1.3 4" clip-path="url(#cTR)"/>
<rect x="271.6" y="281" width="101" height="72.1" fill="#fff"/>
<path d="M34.4,438.00 L35.4,439.45 L36.4,440.91 L37.4,442.38 L38.4,443.85 L39.4,445.36 L40.4,446.90 L41.4,448.44 L42.4,449.93 L43.4,451.33 L44.4,452.63 L45.4,453.88 L46.4,455.07 L47.4,456.20 L48.4,457.28 L49.4,458.32 L50.4,459.31 L51.4,460.27 L52.4,461.20 L53.4,462.10 L54.4,462.97 L55.4,463.83 L56.4,464.67 L57.4,465.50 L58.4,466.30 L59.4,467.09 L60.4,467.87 L61.4,468.63 L62.4,469.37 L63.4,470.10 L64.4,470.81 L65.4,471.52 L66.4,472.21 L67.4,472.89 L68.4,473.56 L69.4,474.21 L70.4,474.85 L71.4,475.47 L72.4,476.08 L73.4,476.67 L74.4,477.26 L75.4,477.83 L76.4,478.39 L77.4,478.94 L78.4,479.47 L79.4,479.98 L80.4,480.47 L81.4,480.94 L82.4,481.38 L83.4,481.81 L84.4,482.22 L85.4,482.62 L86.4,483.00 L87.4,483.38 L88.4,483.76 L89.4,484.13 L90.4,484.49 L91.4,484.84 L92.4,485.19 L93.4,485.53 L94.4,485.86 L95.4,486.20 L96.4,486.53 L97.4,486.86 L98.4,487.20 L99.4,487.54 L100.4,487.89 L101.4,488.23 L102.4,488.58 L103.4,488.92 L104.4,489.26 L105.4,489.61 L106.4,489.95 L107.4,490.29 L108.4,490.62 L109.4,490.96 L110.4,491.28 L111.4,491.61 L112.4,491.93 L113.4,492.25 L114.4,492.57 L115.4,492.89 L116.4,493.21 L117.4,493.51 L118.4,493.81 L119.4,494.09 L120.4,494.35 L121.4,494.60 L122.4,494.84 L123.4,495.07 L124.4,495.30 L125.4,495.52 L126.4,495.73 L127.4,495.94 L128.4,496.15 L129.4,496.35 L130.4,496.55 L131.4,496.74 L132.4,496.94 L133.4,497.12 L134.4,497.31 L135.4,497.49 L136.4,497.67 L137.4,497.85 L138.4,498.02 L139.4,498.20 L140.4,498.37 L141.4,498.54 L142.4,498.70 L143.4,498.87 L144.4,499.02 L145.4,499.18 L146.4,499.33 L147.4,499.49 L148.4,499.64 L149.4,499.78 L150.4,499.93 L151.4,500.08 L152.4,500.22 L153.4,500.37 L154.4,500.52 L155.4,500.66 L156.4,500.81 L157.4,500.96 L158.4,501.11 L159.4,501.26 L160.4,501.42 L161.4,501.57 L162.4,501.73 L163.4,501.89 L164.4,502.04 L165.4,502.19 L166.4,502.34 L167.4,502.49 L168.4,502.64 L169.4,502.78 L170.4,502.92 L171.4,503.06 L172.4,503.19 L173.4,503.32 L174.4,503.44 L175.4,503.55 L176.4,503.66 L177.4,503.77 L178.4,503.87 L179.4,503.97 L180.4,504.07 L181.4,504.16 L182.4,504.26 L183.4,504.35 L184.4,504.45 L185.4,504.54 L186.4,504.63 L187.4,504.73 L188.4,504.83 L189.4,504.92 L190.4,505.03 L191.4,505.13 L192.4,505.24 L193.4,505.35 L194.4,505.46 L195.4,505.57 L196.4,505.68 L197.4,505.79 L198.4,505.90 L199.4,506.01 L200.4,506.13 L201.4,506.24 L202.4,506.36 L203.4,506.48 L203.6,506.50" fill="none" stroke="#00ff00" stroke-width="1.4" stroke-dasharray="2.5 1.5" clip-path="url(#cBL)"/>
<path d="M34.4,430.00 L35.4,431.26 L36.4,432.51 L37.4,433.74 L38.4,434.95 L39.4,436.15 L40.4,437.34 L41.4,438.52 L42.4,439.69 L43.4,440.85 L44.4,442.00 L45.4,443.11 L46.4,444.18 L47.4,445.21 L48.4,446.20 L49.4,447.16 L50.4,448.10 L51.4,449.02 L52.4,449.92 L53.4,450.81 L54.4,451.67 L55.4,452.53 L56.4,453.37 L57.4,454.21 L58.4,455.02 L59.4,455.82 L60.4,456.61 L61.4,457.39 L62.4,458.15 L63.4,458.89 L64.4,459.62 L65.4,460.33 L66.4,461.03 L67.4,461.72 L68.4,462.39 L69.4,463.06 L70.4,463.71 L71.4,464.35 L72.4,464.98 L73.4,465.59 L74.4,466.20 L75.4,466.80 L76.4,467.40 L77.4,467.98 L78.4,468.54 L79.4,469.10 L80.4,469.63 L81.4,470.15 L82.4,470.66 L83.4,471.16 L84.4,471.65 L85.4,472.12 L86.4,472.59 L87.4,473.04 L88.4,473.48 L89.4,473.91 L90.4,474.34 L91.4,474.74 L92.4,475.14 L93.4,475.52 L94.4,475.91 L95.4,476.28 L96.4,476.66 L97.4,477.03 L98.4,477.41 L99.4,477.80 L100.4,478.19 L101.4,478.58 L102.4,478.98 L103.4,479.37 L104.4,479.76 L105.4,480.14 L106.4,480.53 L107.4,480.90 L108.4,481.27 L109.4,481.63 L110.4,481.97 L111.4,482.31 L112.4,482.63 L113.4,482.94 L114.4,483.25 L115.4,483.55 L116.4,483.84 L117.4,484.13 L118.4,484.41 L119.4,484.69 L120.4,484.96 L121.4,485.23 L122.4,485.50 L123.4,485.76 L124.4,486.02 L125.4,486.27 L126.4,486.53 L127.4,486.78 L128.4,487.03 L129.4,487.27 L130.4,487.52 L131.4,487.76 L132.4,487.99 L133.4,488.23 L134.4,488.46 L135.4,488.68 L136.4,488.91 L137.4,489.13 L138.4,489.35 L139.4,489.57 L140.4,489.79 L141.4,490.00 L142.4,490.22 L143.4,490.43 L144.4,490.64 L145.4,490.85 L146.4,491.06 L147.4,491.27 L148.4,491.48 L149.4,491.69 L150.4,491.90 L151.4,492.10 L152.4,492.31 L153.4,492.51 L154.4,492.70 L155.4,492.90 L156.4,493.09 L157.4,493.27 L158.4,493.46 L159.4,493.64 L160.4,493.82 L161.4,494.00 L162.4,494.18 L163.4,494.36 L164.4,494.53 L165.4,494.71 L166.4,494.88 L167.4,495.05 L168.4,495.21 L169.4,495.37 L170.4,495.53 L171.4,495.69 L172.4,495.85 L173.4,496.00 L174.4,496.14 L175.4,496.29 L176.4,496.42 L177.4,496.56 L178.4,496.69 L179.4,496.82 L180.4,496.94 L181.4,497.07 L182.4,497.19 L183.4,497.31 L184.4,497.43 L185.4,497.56 L186.4,497.68 L187.4,497.81 L188.4,497.94 L189.4,498.07 L190.4,498.20 L191.4,498.34 L192.4,498.48 L193.4,498.63 L194.4,498.77 L195.4,498.92 L196.4,499.07 L197.4,499.22 L198.4,499.38 L199.4,499.53 L200.4,499.69 L201.4,499.85 L202.4,500.01 L203.4,500.17 L203.6,500.20" fill="none" stroke="#0000ff" stroke-width="1.4" stroke-dasharray="2.6 2.4 0.7 2.4" clip-path="url(#cBL)"/>
<path d="M34.4,420.10 L35.4,421.03 L36.4,421.96 L37.4,422.88 L38.4,423.81 L39.4,424.73 L40.4,425.65 L41.4,426.58 L42.4,427.50 L43.4,428.42 L44.4,429.34 L45.4,430.27 L46.4,431.21 L47.4,432.15 L48.4,433.09 L49.4,434.02 L50.4,434.94 L51.4,435.85 L52.4,436.73 L53.4,437.58 L54.4,438.41 L55.4,439.23 L56.4,440.04 L57.4,440.83 L58.4,441.61 L59.4,442.37 L60.4,443.12 L61.4,443.85 L62.4,444.55 L63.4,445.24 L64.4,445.90 L65.4,446.53 L66.4,447.14 L67.4,447.74 L68.4,448.32 L69.4,448.89 L70.4,449.44 L71.4,450.00 L72.4,450.55 L73.4,451.10 L74.4,451.66 L75.4,452.22 L76.4,452.78 L77.4,453.34 L78.4,453.90 L79.4,454.45 L80.4,455.00 L81.4,455.53 L82.4,456.05 L83.4,456.56 L84.4,457.05 L85.4,457.53 L86.4,457.99 L87.4,458.44 L88.4,458.88 L89.4,459.31 L90.4,459.73 L91.4,460.15 L92.4,460.56 L93.4,460.97 L94.4,461.38 L95.4,461.78 L96.4,462.18 L97.4,462.58 L98.4,462.98 L99.4,463.37 L100.4,463.76 L101.4,464.14 L102.4,464.52 L103.4,464.90 L104.4,465.28 L105.4,465.65 L106.4,466.01 L107.4,466.38 L108.4,466.74 L109.4,467.09 L110.4,467.45 L111.4,467.79 L112.4,468.14 L113.4,468.48 L114.4,468.81 L115.4,469.15 L116.4,469.48 L117.4,469.81 L118.4,470.13 L119.4,470.45 L120.4,470.77 L121.4,471.09 L122.4,471.40 L123.4,471.71 L124.4,472.01 L125.4,472.31 L126.4,472.61 L127.4,472.91 L128.4,473.20 L129.4,473.49 L130.4,473.77 L131.4,474.05 L132.4,474.33 L133.4,474.61 L134.4,474.88 L135.4,475.16 L136.4,475.42 L137.4,475.69 L138.4,475.95 L139.4,476.21 L140.4,476.47 L141.4,476.73 L142.4,476.98 L143.4,477.23 L144.4,477.48 L145.4,477.73 L146.4,477.97 L147.4,478.22 L148.4,478.45 L149.4,478.69 L150.4,478.92 L151.4,479.15 L152.4,479.38 L153.4,479.61 L154.4,479.83 L155.4,480.05 L156.4,480.27 L157.4,480.49 L158.4,480.70 L159.4,480.92 L160.4,481.14 L161.4,481.35 L162.4,481.56 L163.4,481.77 L164.4,481.98 L165.4,482.19 L166.4,482.40 L167.4,482.60 L168.4,482.81 L169.4,483.00 L170.4,483.20 L171.4,483.39 L172.4,483.58 L173.4,483.77 L174.4,483.95 L175.4,484.14 L176.4,484.32 L177.4,484.49 L178.4,484.67 L179.4,484.84 L180.4,485.01 L181.4,485.18 L182.4,485.35 L183.4,485.52 L184.4,485.68 L185.4,485.84 L186.4,486.00 L187.4,486.15 L188.4,486.30 L189.4,486.45 L190.4,486.60 L191.4,486.74 L192.4,486.88 L193.4,487.02 L194.4,487.16 L195.4,487.29 L196.4,487.43 L197.4,487.55 L198.4,487.68 L199.4,487.81 L200.4,487.93 L201.4,488.05 L202.4,488.16 L203.4,488.28 L203.6,488.30" fill="none" stroke="#ff00ff" stroke-width="1.4" stroke-dasharray="7 3.8 1.8 3.6" clip-path="url(#cBL)"/>
<path d="M34.4,420.10 L35.4,421.03 L36.4,421.95 L37.4,422.87 L38.4,423.78 L39.4,424.69 L40.4,425.58 L41.4,426.47 L42.4,427.35 L43.4,428.23 L44.4,429.10 L45.4,429.97 L46.4,430.85 L47.4,431.72 L48.4,432.59 L49.4,433.44 L50.4,434.27 L51.4,435.09 L52.4,435.88 L53.4,436.63 L54.4,437.36 L55.4,438.06 L56.4,438.74 L57.4,439.40 L58.4,440.03 L59.4,440.64 L60.4,441.23 L61.4,441.79 L62.4,442.34 L63.4,442.87 L64.4,443.39 L65.4,443.89 L66.4,444.38 L67.4,444.86 L68.4,445.34 L69.4,445.80 L70.4,446.27 L71.4,446.73 L72.4,447.19 L73.4,447.65 L74.4,448.11 L75.4,448.56 L76.4,449.00 L77.4,449.43 L78.4,449.86 L79.4,450.28 L80.4,450.68 L81.4,451.08 L82.4,451.45 L83.4,451.81 L84.4,452.15 L85.4,452.48 L86.4,452.79 L87.4,453.10 L88.4,453.42 L89.4,453.73 L90.4,454.06 L91.4,454.40 L92.4,454.74 L93.4,455.07 L94.4,455.41 L95.4,455.74 L96.4,456.07 L97.4,456.39 L98.4,456.69 L99.4,456.99 L100.4,457.29 L101.4,457.58 L102.4,457.86 L103.4,458.15 L104.4,458.42 L105.4,458.69 L106.4,458.95 L107.4,459.21 L108.4,459.45 L109.4,459.69 L110.4,459.92 L111.4,460.14 L112.4,460.36 L113.4,460.57 L114.4,460.77 L115.4,460.98 L116.4,461.18 L117.4,461.37 L118.4,461.57 L119.4,461.77 L120.4,461.96 L121.4,462.16 L122.4,462.35 L123.4,462.54 L124.4,462.74 L125.4,462.93 L126.4,463.12 L127.4,463.31 L128.4,463.50 L129.4,463.68 L130.4,463.87 L131.4,464.05 L132.4,464.22 L133.4,464.40 L134.4,464.57 L135.4,464.74 L136.4,464.91 L137.4,465.07 L138.4,465.23 L139.4,465.38 L140.4,465.53 L141.4,465.68 L142.4,465.82 L143.4,465.96 L144.4,466.10 L145.4,466.24 L146.4,466.38 L147.4,466.52 L148.4,466.65 L149.4,466.79 L150.4,466.92 L151.4,467.05 L152.4,467.19 L153.4,467.32 L154.4,467.45 L155.4,467.57 L156.4,467.70 L157.4,467.83 L158.4,467.95 L159.4,468.08 L160.4,468.20 L161.4,468.32 L162.4,468.45 L163.4,468.57 L164.4,468.69 L165.4,468.82 L166.4,468.94 L167.4,469.06 L168.4,469.18 L169.4,469.30 L170.4,469.42 L171.4,469.54 L172.4,469.65 L173.4,469.76 L174.4,469.88 L175.4,469.98 L176.4,470.09 L177.4,470.19 L178.4,470.29 L179.4,470.38 L180.4,470.48 L181.4,470.57 L182.4,470.66 L183.4,470.74 L184.4,470.83 L185.4,470.91 L186.4,471.00 L187.4,471.08 L188.4,471.17 L189.4,471.25 L190.4,471.34 L191.4,471.43 L192.4,471.51 L193.4,471.60 L194.4,471.69 L195.4,471.78 L196.4,471.87 L197.4,471.95 L198.4,472.04 L199.4,472.13 L200.4,472.22 L201.4,472.31 L202.4,472.39 L203.4,472.48 L203.6,472.50" fill="none" stroke="#00ffff" stroke-width="1.4" stroke-dasharray="10.1 6 2.1 5.9 2.1 5.9 2.1 5.9" stroke-dashoffset="-1" clip-path="url(#cBL)"/>
<path d="M34.4,420.10 L35.4,421.03 L36.4,421.96 L37.4,422.88 L38.4,423.81 L39.4,424.73 L40.4,425.65 L41.4,426.58 L42.4,427.50 L43.4,428.42 L44.4,429.34 L45.4,430.27 L46.4,431.21 L47.4,432.15 L48.4,433.09 L49.4,434.02 L50.4,434.94 L51.4,435.85 L52.4,436.73 L53.4,437.58 L54.4,438.41 L55.4,439.23 L56.4,440.04 L57.4,440.83 L58.4,441.61 L59.4,442.37 L60.4,443.12 L61.4,443.85 L62.4,444.55 L63.4,445.24 L64.4,445.90 L65.4,446.53 L66.4,447.14 L67.4,447.74 L68.4,448.32 L69.4,448.89 L70.4,449.44 L71.4,450.00 L72.4,450.55 L73.4,451.10 L74.4,451.66 L75.4,452.22 L76.4,452.78 L77.4,453.34 L78.4,453.90 L79.4,454.45 L80.4,455.00 L81.4,455.53 L82.4,456.05 L83.4,456.56 L84.4,457.05 L85.4,457.53 L86.4,457.99 L87.4,458.44 L88.4,458.88 L89.4,459.31 L90.4,459.73 L91.4,460.15 L92.4,460.56 L93.4,460.97 L94.4,461.38 L95.4,461.78 L96.4,462.18 L97.4,462.58 L98.4,462.98 L99.4,463.37 L100.4,463.76 L101.4,464.14 L102.4,464.52 L103.4,464.90 L104.4,465.28 L105.4,465.65 L106.4,466.01 L107.4,466.38 L108.4,466.74 L109.4,467.09 L110.4,467.45 L111.4,467.79 L112.4,468.14 L113.4,468.48 L114.4,468.81 L115.4,469.15 L116.4,469.48 L117.4,469.81 L118.4,470.13 L119.4,470.45 L120.4,470.77 L121.4,471.09 L122.4,471.40 L123.4,471.71 L124.4,472.01 L125.4,472.31 L126.4,472.61 L127.4,472.91 L128.4,473.20 L129.4,473.49 L130.4,473.77 L131.4,474.05 L132.4,474.33 L133.4,474.61 L134.4,474.88 L135.4,475.16 L136.4,475.42 L137.4,475.69 L138.4,475.95 L139.4,476.21 L140.4,476.47 L141.4,476.73 L142.4,476.98 L143.4,477.23 L144.4,477.48 L145.4,477.73 L146.4,477.97 L147.4,478.22 L148.4,478.45 L149.4,478.69 L150.4,478.92 L151.4,479.15 L152.4,479.38 L153.4,479.61 L154.4,479.83 L155.4,480.05 L156.4,480.27 L157.4,480.49 L158.4,480.70 L159.4,480.92 L160.4,481.14 L161.4,481.35 L162.4,481.56 L163.4,481.77 L164.4,481.98 L165.4,482.19 L166.4,482.40 L167.4,482.60 L168.4,482.81 L169.4,483.00 L170.4,483.20 L171.4,483.39 L172.4,483.58 L173.4,483.77 L174.4,483.95 L175.4,484.14 L176.4,484.32 L177.4,484.49 L178.4,484.67 L179.4,484.84 L180.4,485.01 L181.4,485.18 L182.4,485.35 L183.4,485.52 L184.4,485.68 L185.4,485.84 L186.4,486.00 L187.4,486.15 L188.4,486.30 L189.4,486.45 L190.4,486.60 L191.4,486.74 L192.4,486.88 L193.4,487.02 L194.4,487.16 L195.4,487.29 L196.4,487.43 L197.4,487.55 L198.4,487.68 L199.4,487.81 L200.4,487.93 L201.4,488.05 L202.4,488.16 L203.4,488.28 L203.6,488.30" fill="none" stroke="#5c5cd6" stroke-width="1.4" stroke-dasharray="7 6.8" clip-path="url(#cBL)"/>
<path d="M203.6,420.90 L204.6,422.02 L205.6,423.13 L206.6,424.24 L207.6,425.35 L208.6,426.45 L209.6,427.55 L210.6,428.64 L211.6,429.74 L212.6,430.86 L213.6,431.97 L214.6,433.05 L215.6,434.11 L216.6,435.11 L217.6,436.07 L218.6,436.99 L219.6,437.88 L220.6,438.76 L221.6,439.61 L222.6,440.43 L223.6,441.24 L224.6,442.03 L225.6,442.80 L226.6,443.56 L227.6,444.30 L228.6,445.02 L229.6,445.73 L230.6,446.42 L231.6,447.09 L232.6,447.75 L233.6,448.39 L234.6,449.01 L235.6,449.61 L236.6,450.20 L237.6,450.77 L238.6,451.33 L239.6,451.88 L240.6,452.43 L241.6,452.97 L242.6,453.50 L243.6,454.03 L244.6,454.55 L245.6,455.06 L246.6,455.57 L247.6,456.07 L248.6,456.56 L249.6,457.06 L250.6,457.55 L251.6,458.05 L252.6,458.54 L253.6,459.03 L254.6,459.51 L255.6,460.00 L256.6,460.48 L257.6,460.95 L258.6,461.43 L259.6,461.90 L260.6,462.37 L261.6,462.85 L262.6,463.32 L263.6,463.80 L264.6,464.26 L265.6,464.72 L266.6,465.16 L267.6,465.59 L268.6,466.00 L269.6,466.41 L270.6,466.80 L271.6,467.19 L272.6,467.57 L273.6,467.95 L274.6,468.32 L275.6,468.68 L276.6,469.04 L277.6,469.39 L278.6,469.74 L279.6,470.08 L280.6,470.43 L281.6,470.76 L282.6,471.10 L283.6,471.43 L284.6,471.76 L285.6,472.09 L286.6,472.41 L287.6,472.73 L288.6,473.04 L289.6,473.35 L290.6,473.66 L291.6,473.96 L292.6,474.26 L293.6,474.55 L294.6,474.84 L295.6,475.13 L296.6,475.41 L297.6,475.69 L298.6,475.97 L299.6,476.24 L300.6,476.51 L301.6,476.78 L302.6,477.04 L303.6,477.30 L304.6,477.55 L305.6,477.80 L306.6,478.05 L307.6,478.28 L308.6,478.52 L309.6,478.74 L310.6,478.96 L311.6,479.18 L312.6,479.39 L313.6,479.60 L314.6,479.81 L315.6,480.01 L316.6,480.21 L317.6,480.41 L318.6,480.61 L319.6,480.82 L320.6,481.02 L321.6,481.22 L322.6,481.42 L323.6,481.62 L324.6,481.83 L325.6,482.03 L326.6,482.23 L327.6,482.43 L328.6,482.62 L329.6,482.82 L330.6,483.02 L331.6,483.22 L332.6,483.41 L333.6,483.61 L334.6,483.81 L335.6,484.01 L336.6,484.20 L337.6,484.40 L338.6,484.60 L339.6,484.80 L340.6,485.00 L341.6,485.20 L342.6,485.41 L343.6,485.61 L344.6,485.81 L345.6,486.02 L346.6,486.22 L347.6,486.43 L348.6,486.63 L349.6,486.83 L350.6,487.03 L351.6,487.23 L352.6,487.43 L353.6,487.62 L354.6,487.82 L355.6,488.01 L356.6,488.19 L357.6,488.38 L358.6,488.56 L359.6,488.75 L360.6,488.93 L361.6,489.11 L362.6,489.29 L363.6,489.47 L364.6,489.65 L365.6,489.82 L366.6,490.00 L367.6,490.17 L368.6,490.34 L369.6,490.51 L370.6,490.68 L371.6,490.85 L372.6,491.02 L373.1,491.10" fill="none" stroke="#00ff00" stroke-width="1.4" stroke-dasharray="2.5 1.5" clip-path="url(#cBR)"/>
<path d="M203.6,418.90 L204.6,419.91 L205.6,420.90 L206.6,421.88 L207.6,422.85 L208.6,423.80 L209.6,424.74 L210.6,425.67 L211.6,426.59 L212.6,427.50 L213.6,428.40 L214.6,429.28 L215.6,430.14 L216.6,430.97 L217.6,431.78 L218.6,432.57 L219.6,433.34 L220.6,434.10 L221.6,434.84 L222.6,435.57 L223.6,436.29 L224.6,437.00 L225.6,437.70 L226.6,438.40 L227.6,439.09 L228.6,439.77 L229.6,440.44 L230.6,441.11 L231.6,441.75 L232.6,442.39 L233.6,443.00 L234.6,443.59 L235.6,444.17 L236.6,444.72 L237.6,445.26 L238.6,445.79 L239.6,446.31 L240.6,446.84 L241.6,447.36 L242.6,447.90 L243.6,448.45 L244.6,449.00 L245.6,449.55 L246.6,450.11 L247.6,450.66 L248.6,451.20 L249.6,451.73 L250.6,452.25 L251.6,452.75 L252.6,453.23 L253.6,453.71 L254.6,454.18 L255.6,454.64 L256.6,455.09 L257.6,455.53 L258.6,455.97 L259.6,456.40 L260.6,456.82 L261.6,457.23 L262.6,457.63 L263.6,458.02 L264.6,458.41 L265.6,458.80 L266.6,459.19 L267.6,459.60 L268.6,460.01 L269.6,460.43 L270.6,460.87 L271.6,461.32 L272.6,461.77 L273.6,462.23 L274.6,462.69 L275.6,463.14 L276.6,463.59 L277.6,464.03 L278.6,464.46 L279.6,464.87 L280.6,465.27 L281.6,465.65 L282.6,466.00 L283.6,466.34 L284.6,466.66 L285.6,466.97 L286.6,467.28 L287.6,467.57 L288.6,467.86 L289.6,468.14 L290.6,468.42 L291.6,468.69 L292.6,468.95 L293.6,469.22 L294.6,469.48 L295.6,469.74 L296.6,470.00 L297.6,470.26 L298.6,470.51 L299.6,470.75 L300.6,470.99 L301.6,471.22 L302.6,471.46 L303.6,471.69 L304.6,471.93 L305.6,472.17 L306.6,472.42 L307.6,472.67 L308.6,472.93 L309.6,473.20 L310.6,473.48 L311.6,473.77 L312.6,474.07 L313.6,474.36 L314.6,474.66 L315.6,474.96 L316.6,475.25 L317.6,475.54 L318.6,475.82 L319.6,476.10 L320.6,476.36 L321.6,476.61 L322.6,476.84 L323.6,477.06 L324.6,477.28 L325.6,477.49 L326.6,477.69 L327.6,477.89 L328.6,478.08 L329.6,478.27 L330.6,478.46 L331.6,478.65 L332.6,478.83 L333.6,479.02 L334.6,479.21 L335.6,479.40 L336.6,479.59 L337.6,479.79 L338.6,480.00 L339.6,480.21 L340.6,480.42 L341.6,480.64 L342.6,480.87 L343.6,481.10 L344.6,481.33 L345.6,481.57 L346.6,481.80 L347.6,482.04 L348.6,482.27 L349.6,482.50 L350.6,482.73 L351.6,482.96 L352.6,483.18 L353.6,483.39 L354.6,483.60 L355.6,483.80 L356.6,484.00 L357.6,484.19 L358.6,484.38 L359.6,484.56 L360.6,484.75 L361.6,484.93 L362.6,485.11 L363.6,485.28 L364.6,485.45 L365.6,485.62 L366.6,485.79 L367.6,485.96 L368.6,486.12 L369.6,486.27 L370.6,486.43 L371.6,486.58 L372.6,486.73 L373.1,486.80" fill="none" stroke="#0000ff" stroke-width="1.4" stroke-dasharray="2.6 2.4 0.7 2.4" clip-path="url(#cBR)"/>
<path d="M203.6,437.70 L204.6,439.54 L205.6,441.32 L206.6,443.05 L207.6,444.71 L208.6,446.30 L209.6,447.82 L210.6,449.27 L211.6,450.66 L212.6,452.00 L213.6,453.28 L214.6,454.52 L215.6,455.71 L216.6,456.85 L217.6,457.96 L218.6,459.02 L219.6,460.05 L220.6,461.04 L221.6,462.00 L222.6,462.93 L223.6,463.84 L224.6,464.71 L225.6,465.55 L226.6,466.36 L227.6,467.15 L228.6,467.92 L229.6,468.68 L230.6,469.43 L231.6,470.17 L232.6,470.90 L233.6,471.63 L234.6,472.34 L235.6,473.03 L236.6,473.71 L237.6,474.37 L238.6,475.01 L239.6,475.66 L240.6,476.29 L241.6,476.91 L242.6,477.51 L243.6,478.10 L244.6,478.66 L245.6,479.19 L246.6,479.70 L247.6,480.16 L248.6,480.61 L249.6,481.04 L250.6,481.48 L251.6,481.91 L252.6,482.35 L253.6,482.79 L254.6,483.22 L255.6,483.65 L256.6,484.08 L257.6,484.49 L258.6,484.90 L259.6,485.29 L260.6,485.68 L261.6,486.05 L262.6,486.42 L263.6,486.79 L264.6,487.15 L265.6,487.50 L266.6,487.85 L267.6,488.20 L268.6,488.54 L269.6,488.87 L270.6,489.20 L271.6,489.52 L272.6,489.83 L273.6,490.15 L274.6,490.45 L275.6,490.75 L276.6,491.05 L277.6,491.34 L278.6,491.63 L279.6,491.91 L280.6,492.19 L281.6,492.46 L282.6,492.73 L283.6,492.99 L284.6,493.25 L285.6,493.50 L286.6,493.75 L287.6,493.99 L288.6,494.22 L289.6,494.45 L290.6,494.68 L291.6,494.90 L292.6,495.12 L293.6,495.34 L294.6,495.56 L295.6,495.78 L296.6,496.00 L297.6,496.23 L298.6,496.46 L299.6,496.71 L300.6,496.95 L301.6,497.20 L302.6,497.45 L303.6,497.70 L304.6,497.94 L305.6,498.17 L306.6,498.39 L307.6,498.60 L308.6,498.79 L309.6,498.98 L310.6,499.15 L311.6,499.32 L312.6,499.49 L313.6,499.64 L314.6,499.80 L315.6,499.95 L316.6,500.10 L317.6,500.25 L318.6,500.39 L319.6,500.54 L320.6,500.69 L321.6,500.84 L322.6,500.99 L323.6,501.14 L324.6,501.29 L325.6,501.44 L326.6,501.59 L327.6,501.74 L328.6,501.89 L329.6,502.04 L330.6,502.18 L331.6,502.33 L332.6,502.47 L333.6,502.62 L334.6,502.76 L335.6,502.90 L336.6,503.05 L337.6,503.19 L338.6,503.33 L339.6,503.47 L340.6,503.61 L341.6,503.76 L342.6,503.91 L343.6,504.05 L344.6,504.20 L345.6,504.35 L346.6,504.50 L347.6,504.64 L348.6,504.78 L349.6,504.92 L350.6,505.06 L351.6,505.19 L352.6,505.31 L353.6,505.43 L354.6,505.54 L355.6,505.65 L356.6,505.75 L357.6,505.84 L358.6,505.94 L359.6,506.03 L360.6,506.12 L361.6,506.21 L362.6,506.29 L363.6,506.38 L364.6,506.46 L365.6,506.53 L366.6,506.61 L367.6,506.68 L368.6,506.75 L369.6,506.81 L370.6,506.87 L371.6,506.92 L372.6,506.98 L373.1,507.00" fill="none" stroke="#ff00ff" stroke-width="1.4" stroke-dasharray="7 3.8 1.8 3.6" clip-path="url(#cBR)"/>
<path d="M203.6,437.70 L204.6,439.51 L205.6,441.27 L206.6,442.97 L207.6,444.60 L208.6,446.16 L209.6,447.65 L210.6,449.06 L211.6,450.43 L212.6,451.77 L213.6,453.05 L214.6,454.26 L215.6,455.39 L216.6,456.42 L217.6,457.34 L218.6,458.19 L219.6,458.97 L220.6,459.71 L221.6,460.41 L222.6,461.09 L223.6,461.78 L224.6,462.47 L225.6,463.20 L226.6,463.97 L227.6,464.77 L228.6,465.57 L229.6,466.36 L230.6,467.11 L231.6,467.80 L232.6,468.42 L233.6,468.96 L234.6,469.47 L235.6,469.94 L236.6,470.39 L237.6,470.83 L238.6,471.27 L239.6,471.72 L240.6,472.18 L241.6,472.66 L242.6,473.14 L243.6,473.61 L244.6,474.07 L245.6,474.51 L246.6,474.92 L247.6,475.30 L248.6,475.65 L249.6,475.99 L250.6,476.31 L251.6,476.63 L252.6,476.96 L253.6,477.30 L254.6,477.66 L255.6,478.03 L256.6,478.40 L257.6,478.78 L258.6,479.16 L259.6,479.53 L260.6,479.89 L261.6,480.23 L262.6,480.56 L263.6,480.88 L264.6,481.19 L265.6,481.50 L266.6,481.80 L267.6,482.10 L268.6,482.38 L269.6,482.67 L270.6,482.95 L271.6,483.23 L272.6,483.50 L273.6,483.77 L274.6,484.03 L275.6,484.30 L276.6,484.56 L277.6,484.83 L278.6,485.08 L279.6,485.34 L280.6,485.58 L281.6,485.82 L282.6,486.04 L283.6,486.26 L284.6,486.46 L285.6,486.65 L286.6,486.82 L287.6,486.99 L288.6,487.15 L289.6,487.31 L290.6,487.46 L291.6,487.62 L292.6,487.78 L293.6,487.94 L294.6,488.12 L295.6,488.30 L296.6,488.50 L297.6,488.71 L298.6,488.93 L299.6,489.15 L300.6,489.36 L301.6,489.58 L302.6,489.79 L303.6,489.99 L304.6,490.18 L305.6,490.35 L306.6,490.51 L307.6,490.64 L308.6,490.75 L309.6,490.85 L310.6,490.95 L311.6,491.03 L312.6,491.11 L313.6,491.18 L314.6,491.25 L315.6,491.32 L316.6,491.38 L317.6,491.44 L318.6,491.50 L319.6,491.57 L320.6,491.63 L321.6,491.70 L322.6,491.77 L323.6,491.85 L324.6,491.93 L325.6,492.02 L326.6,492.12 L327.6,492.23 L328.6,492.34 L329.6,492.46 L330.6,492.59 L331.6,492.71 L332.6,492.84 L333.6,492.97 L334.6,493.10 L335.6,493.22 L336.6,493.34 L337.6,493.45 L338.6,493.55 L339.6,493.65 L340.6,493.74 L341.6,493.82 L342.6,493.91 L343.6,493.99 L344.6,494.07 L345.6,494.15 L346.6,494.23 L347.6,494.31 L348.6,494.38 L349.6,494.45 L350.6,494.52 L351.6,494.59 L352.6,494.66 L353.6,494.73 L354.6,494.80 L355.6,494.87 L356.6,494.93 L357.6,495.00 L358.6,495.06 L359.6,495.13 L360.6,495.19 L361.6,495.25 L362.6,495.31 L363.6,495.38 L364.6,495.44 L365.6,495.49 L366.6,495.55 L367.6,495.61 L368.6,495.66 L369.6,495.72 L370.6,495.77 L371.6,495.82 L372.6,495.87 L373.1,495.90" fill="none" stroke="#00ffff" stroke-width="1.4" stroke-dasharray="10.1 6 2.1 5.9 2.1 5.9 2.1 5.9" stroke-dashoffset="-2" clip-path="url(#cBR)"/>
<path d="M203.6,437.70 L204.6,439.54 L205.6,441.32 L206.6,443.05 L207.6,444.71 L208.6,446.30 L209.6,447.82 L210.6,449.27 L211.6,450.66 L212.6,452.00 L213.6,453.28 L214.6,454.52 L215.6,455.71 L216.6,456.85 L217.6,457.96 L218.6,459.02 L219.6,460.05 L220.6,461.04 L221.6,462.00 L222.6,462.93 L223.6,463.84 L224.6,464.71 L225.6,465.55 L226.6,466.36 L227.6,467.15 L228.6,467.92 L229.6,468.68 L230.6,469.43 L231.6,470.17 L232.6,470.90 L233.6,471.63 L234.6,472.34 L235.6,473.03 L236.6,473.71 L237.6,474.37 L238.6,475.01 L239.6,475.66 L240.6,476.29 L241.6,476.91 L242.6,477.51 L243.6,478.10 L244.6,478.66 L245.6,479.19 L246.6,479.70 L247.6,480.16 L248.6,480.61 L249.6,481.04 L250.6,481.48 L251.6,481.91 L252.6,482.35 L253.6,482.79 L254.6,483.22 L255.6,483.65 L256.6,484.08 L257.6,484.49 L258.6,484.90 L259.6,485.29 L260.6,485.68 L261.6,486.05 L262.6,486.42 L263.6,486.79 L264.6,487.15 L265.6,487.50 L266.6,487.85 L267.6,488.20 L268.6,488.54 L269.6,488.87 L270.6,489.20 L271.6,489.52 L272.6,489.83 L273.6,490.15 L274.6,490.45 L275.6,490.75 L276.6,491.05 L277.6,491.34 L278.6,491.63 L279.6,491.91 L280.6,492.19 L281.6,492.46 L282.6,492.73 L283.6,492.99 L284.6,493.25 L285.6,493.50 L286.6,493.75 L287.6,493.99 L288.6,494.22 L289.6,494.45 L290.6,494.68 L291.6,494.90 L292.6,495.12 L293.6,495.34 L294.6,495.56 L295.6,495.78 L296.6,496.00 L297.6,496.23 L298.6,496.46 L299.6,496.71 L300.6,496.95 L301.6,497.20 L302.6,497.45 L303.6,497.70 L304.6,497.94 L305.6,498.17 L306.6,498.39 L307.6,498.60 L308.6,498.79 L309.6,498.98 L310.6,499.15 L311.6,499.32 L312.6,499.49 L313.6,499.64 L314.6,499.80 L315.6,499.95 L316.6,500.10 L317.6,500.25 L318.6,500.39 L319.6,500.54 L320.6,500.69 L321.6,500.84 L322.6,500.99 L323.6,501.14 L324.6,501.29 L325.6,501.44 L326.6,501.59 L327.6,501.74 L328.6,501.89 L329.6,502.04 L330.6,502.18 L331.6,502.33 L332.6,502.47 L333.6,502.62 L334.6,502.76 L335.6,502.90 L336.6,503.05 L337.6,503.19 L338.6,503.33 L339.6,503.47 L340.6,503.61 L341.6,503.76 L342.6,503.91 L343.6,504.05 L344.6,504.20 L345.6,504.35 L346.6,504.50 L347.6,504.64 L348.6,504.78 L349.6,504.92 L350.6,505.06 L351.6,505.19 L352.6,505.31 L353.6,505.43 L354.6,505.54 L355.6,505.65 L356.6,505.75 L357.6,505.84 L358.6,505.94 L359.6,506.03 L360.6,506.12 L361.6,506.21 L362.6,506.29 L363.6,506.38 L364.6,506.46 L365.6,506.53 L366.6,506.61 L367.6,506.68 L368.6,506.75 L369.6,506.81 L370.6,506.87 L371.6,506.92 L372.6,506.98 L373.1,507.00" fill="none" stroke="#5c5cd6" stroke-width="1.4" stroke-dasharray="7 6.8" clip-path="url(#cBR)"/>
<line x1="33.300000000000004" y1="279.28" x2="373.85" y2="279.28" stroke="#808080" stroke-width="1.43"/>
<line x1="373.0" y1="278.6" x2="373.0" y2="509.25" stroke="#777" stroke-width="1.7"/>
<line x1="33.300000000000004" y1="393.85" x2="373.0" y2="393.85" stroke="#777" stroke-width="1.5"/>
<line x1="33.300000000000004" y1="508.62" x2="373.85" y2="508.62" stroke="#5c5c5c" stroke-width="1.35"/>
<line x1="34.0" y1="278.6" x2="34.0" y2="509.25" stroke="#808080" stroke-width="1.4"/>
<path d="M34.2,387.42h5.3 M34.2,374.68h5.3 M34.2,361.94h5.3 M34.2,349.20h5.3 M34.2,336.46h5.3 M34.2,323.72h5.3 M34.2,310.98h5.3 M34.2,298.24h5.3 M34.2,285.50h5.3 M46.62,393.80v-3.4 M73.62,393.80v-3.4 M100.62,393.80v-3.4 M127.62,393.80v-3.4 M154.62,393.80v-3.4 M181.62,393.80v-3.4 M203.6,387.42h5.3 M203.6,374.68h5.3 M203.6,361.94h5.3 M203.6,349.20h5.3 M203.6,336.46h5.3 M203.6,323.72h5.3 M203.6,310.98h5.3 M203.6,298.24h5.3 M203.6,285.50h5.3 M216.02,393.80v-3.4 M243.02,393.80v-3.4 M270.01,393.80v-3.4 M297.01,393.80v-3.4 M324.01,393.80v-3.4 M351.01,393.80v-3.4 M34.2,502.32h5.3 M34.2,489.58h5.3 M34.2,476.84h5.3 M34.2,464.10h5.3 M34.2,451.36h5.3 M34.2,438.62h5.3 M34.2,425.88h5.3 M34.2,413.14h5.3 M34.2,400.40h5.3 M46.62,508.50v-3.4 M73.62,508.50v-3.4 M100.62,508.50v-3.4 M127.62,508.50v-3.4 M154.62,508.50v-3.4 M181.62,508.50v-3.4 M203.6,502.32h5.3 M203.6,489.58h5.3 M203.6,476.84h5.3 M203.6,464.10h5.3 M203.6,451.36h5.3 M203.6,438.62h5.3 M203.6,425.88h5.3 M203.6,413.14h5.3 M203.6,400.40h5.3 M216.02,508.50v-3.4 M243.02,508.50v-3.4 M270.01,508.50v-3.4 M297.01,508.50v-3.4 M324.01,508.50v-3.4 M351.01,508.50v-3.4" stroke="#111" stroke-width="0.9" fill="none"/>
<path d="M34.2,392.52h2.7 M34.2,389.97h2.7 M34.2,384.88h2.7 M34.2,382.33h2.7 M34.2,379.78h2.7 M34.2,377.23h2.7 M34.2,372.14h2.7 M34.2,369.59h2.7 M34.2,367.04h2.7 M34.2,364.49h2.7 M34.2,359.40h2.7 M34.2,356.85h2.7 M34.2,354.30h2.7 M34.2,351.75h2.7 M34.2,346.66h2.7 M34.2,344.11h2.7 M34.2,341.56h2.7 M34.2,339.01h2.7 M34.2,333.92h2.7 M34.2,331.37h2.7 M34.2,328.82h2.7 M34.2,326.27h2.7 M34.2,321.18h2.7 M34.2,318.63h2.7 M34.2,316.08h2.7 M34.2,313.53h2.7 M34.2,308.44h2.7 M34.2,305.89h2.7 M34.2,303.34h2.7 M34.2,300.79h2.7 M34.2,295.70h2.7 M34.2,293.15h2.7 M34.2,290.60h2.7 M34.2,288.05h2.7 M34.2,282.96h2.7 M34.2,280.41h2.7 M39.87,393.80v-1.8 M53.37,393.80v-1.8 M60.12,393.80v-1.8 M66.87,393.80v-1.8 M80.37,393.80v-1.8 M87.12,393.80v-1.8 M93.87,393.80v-1.8 M107.37,393.80v-1.8 M114.12,393.80v-1.8 M120.87,393.80v-1.8 M134.37,393.80v-1.8 M141.12,393.80v-1.8 M147.87,393.80v-1.8 M161.37,393.80v-1.8 M168.12,393.80v-1.8 M174.87,393.80v-1.8 M188.37,393.80v-1.8 M195.12,393.80v-1.8 M201.87,393.80v-1.8 M203.6,392.52h2.7 M203.6,389.97h2.7 M203.6,384.88h2.7 M203.6,382.33h2.7 M203.6,379.78h2.7 M203.6,377.23h2.7 M203.6,372.14h2.7 M203.6,369.59h2.7 M203.6,367.04h2.7 M203.6,364.49h2.7 M203.6,359.40h2.7 M203.6,356.85h2.7 M203.6,354.30h2.7 M203.6,351.75h2.7 M203.6,346.66h2.7 M203.6,344.11h2.7 M203.6,341.56h2.7 M203.6,339.01h2.7 M203.6,333.92h2.7 M203.6,331.37h2.7 M203.6,328.82h2.7 M203.6,326.27h2.7 M203.6,321.18h2.7 M203.6,318.63h2.7 M203.6,316.08h2.7 M203.6,313.53h2.7 M203.6,308.44h2.7 M203.6,305.89h2.7 M203.6,303.34h2.7 M203.6,300.79h2.7 M203.6,295.70h2.7 M203.6,293.15h2.7 M203.6,290.60h2.7 M203.6,288.05h2.7 M203.6,282.96h2.7 M203.6,280.41h2.7 M209.27,393.80v-1.8 M222.77,393.80v-1.8 M229.52,393.80v-1.8 M236.27,393.80v-1.8 M249.77,393.80v-1.8 M256.51,393.80v-1.8 M263.26,393.80v-1.8 M276.76,393.80v-1.8 M283.51,393.80v-1.8 M290.26,393.80v-1.8 M303.76,393.80v-1.8 M310.51,393.80v-1.8 M317.26,393.80v-1.8 M330.76,393.80v-1.8 M337.51,393.80v-1.8 M344.26,393.80v-1.8 M357.76,393.80v-1.8 M364.51,393.80v-1.8 M371.26,393.80v-1.8 M34.2,507.42h2.7 M34.2,504.87h2.7 M34.2,499.77h2.7 M34.2,497.22h2.7 M34.2,494.68h2.7 M34.2,492.13h2.7 M34.2,487.03h2.7 M34.2,484.48h2.7 M34.2,481.94h2.7 M34.2,479.39h2.7 M34.2,474.29h2.7 M34.2,471.74h2.7 M34.2,469.20h2.7 M34.2,466.65h2.7 M34.2,461.55h2.7 M34.2,459.00h2.7 M34.2,456.46h2.7 M34.2,453.91h2.7 M34.2,448.81h2.7 M34.2,446.26h2.7 M34.2,443.72h2.7 M34.2,441.17h2.7 M34.2,436.07h2.7 M34.2,433.52h2.7 M34.2,430.98h2.7 M34.2,428.43h2.7 M34.2,423.33h2.7 M34.2,420.78h2.7 M34.2,418.24h2.7 M34.2,415.69h2.7 M34.2,410.59h2.7 M34.2,408.04h2.7 M34.2,405.50h2.7 M34.2,402.95h2.7 M34.2,397.85h2.7 M34.2,395.30h2.7 M39.87,508.50v-1.8 M53.37,508.50v-1.8 M60.12,508.50v-1.8 M66.87,508.50v-1.8 M80.37,508.50v-1.8 M87.12,508.50v-1.8 M93.87,508.50v-1.8 M107.37,508.50v-1.8 M114.12,508.50v-1.8 M120.87,508.50v-1.8 M134.37,508.50v-1.8 M141.12,508.50v-1.8 M147.87,508.50v-1.8 M161.37,508.50v-1.8 M168.12,508.50v-1.8 M174.87,508.50v-1.8 M188.37,508.50v-1.8 M195.12,508.50v-1.8 M201.87,508.50v-1.8 M203.6,507.42h2.7 M203.6,504.87h2.7 M203.6,499.77h2.7 M203.6,497.22h2.7 M203.6,494.68h2.7 M203.6,492.13h2.7 M203.6,487.03h2.7 M203.6,484.48h2.7 M203.6,481.94h2.7 M203.6,479.39h2.7 M203.6,474.29h2.7 M203.6,471.74h2.7 M203.6,469.20h2.7 M203.6,466.65h2.7 M203.6,461.55h2.7 M203.6,459.00h2.7 M203.6,456.46h2.7 M203.6,453.91h2.7 M203.6,448.81h2.7 M203.6,446.26h2.7 M203.6,443.72h2.7 M203.6,441.17h2.7 M203.6,436.07h2.7 M203.6,433.52h2.7 M203.6,430.98h2.7 M203.6,428.43h2.7 M203.6,423.33h2.7 M203.6,420.78h2.7 M203.6,418.24h2.7 M203.6,415.69h2.7 M203.6,410.59h2.7 M203.6,408.04h2.7 M203.6,405.50h2.7 M203.6,402.95h2.7 M203.6,397.85h2.7 M203.6,395.30h2.7 M209.27,508.50v-1.8 M222.77,508.50v-1.8 M229.52,508.50v-1.8 M236.27,508.50v-1.8 M249.77,508.50v-1.8 M256.51,508.50v-1.8 M263.26,508.50v-1.8 M276.76,508.50v-1.8 M283.51,508.50v-1.8 M290.26,508.50v-1.8 M303.76,508.50v-1.8 M310.51,508.50v-1.8 M317.26,508.50v-1.8 M330.76,508.50v-1.8 M337.51,508.50v-1.8 M344.26,508.50v-1.8 M357.76,508.50v-1.8 M364.51,508.50v-1.8 M371.26,508.50v-1.8" stroke="#3a3a3a" stroke-width="0.8" fill="none"/>
<line x1="34.2" y1="400.45" x2="373.0" y2="400.45" stroke="#ff0000" stroke-width="1.25"/>
<g stroke="#111" stroke-width="1.0" fill="none">
<line x1="34.5" y1="279.0" x2="34.5" y2="508.95000000000005"/>
<line x1="203.5" y1="279.0" x2="203.5" y2="508.95000000000005" stroke-width="1.1"/>
</g>
<text transform="translate(33.2,390.82) rotate(0.03)" text-anchor="end" font-size="9.2" font-family="Liberation Sans, sans-serif" stroke="#000" stroke-width="0.18" fill="#000">0.2</text>
<text transform="translate(33.2,378.08) rotate(0.03)" text-anchor="end" font-size="9.2" font-family="Liberation Sans, sans-serif" stroke="#000" stroke-width="0.18" fill="#000">0.3</text>
<text transform="translate(33.2,365.34) rotate(0.03)" text-anchor="end" font-size="9.2" font-family="Liberation Sans, sans-serif" stroke="#000" stroke-width="0.18" fill="#000">0.4</text>
<text transform="translate(33.2,352.60) rotate(0.03)" text-anchor="end" font-size="9.2" font-family="Liberation Sans, sans-serif" stroke="#000" stroke-width="0.18" fill="#000">0.5</text>
<text transform="translate(33.2,339.86) rotate(0.03)" text-anchor="end" font-size="9.2" font-family="Liberation Sans, sans-serif" stroke="#000" stroke-width="0.18" fill="#000">0.6</text>
<text transform="translate(33.2,327.12) rotate(0.03)" text-anchor="end" font-size="9.2" font-family="Liberation Sans, sans-serif" stroke="#000" stroke-width="0.18" fill="#000">0.7</text>
<text transform="translate(33.2,314.38) rotate(0.03)" text-anchor="end" font-size="9.2" font-family="Liberation Sans, sans-serif" stroke="#000" stroke-width="0.18" fill="#000">0.8</text>
<text transform="translate(33.2,301.64) rotate(0.03)" text-anchor="end" font-size="9.2" font-family="Liberation Sans, sans-serif" stroke="#000" stroke-width="0.18" fill="#000">0.9</text>
<text transform="translate(33.9,288.90) rotate(0.03)" text-anchor="end" font-size="9.2" font-family="Liberation Sans, sans-serif" stroke="#000" stroke-width="0.18" fill="#000">1</text>
<text transform="translate(33.2,505.72) rotate(0.03)" text-anchor="end" font-size="9.4" font-family="Liberation Sans, sans-serif" stroke="#000" stroke-width="0.18" fill="#000">0.2</text>
<text transform="translate(33.2,492.98) rotate(0.03)" text-anchor="end" font-size="9.4" font-family="Liberation Sans, sans-serif" stroke="#000" stroke-width="0.18" fill="#000">0.3</text>
<text transform="translate(33.2,480.24) rotate(0.03)" text-anchor="end" font-size="9.4" font-family="Liberation Sans, sans-serif" stroke="#000" stroke-width="0.18" fill="#000">0.4</text>
<text transform="translate(33.2,467.50) rotate(0.03)" text-anchor="end" font-size="9.4" font-family="Liberation Sans, sans-serif" stroke="#000" stroke-width="0.18" fill="#000">0.5</text>
<text transform="translate(33.2,454.76) rotate(0.03)" text-anchor="end" font-size="9.4" font-family="Liberation Sans, sans-serif" stroke="#000" stroke-width="0.18" fill="#000">0.6</text>
<text transform="translate(33.2,442.02) rotate(0.03)" text-anchor="end" font-size="9.4" font-family="Liberation Sans, sans-serif" stroke="#000" stroke-width="0.18" fill="#000">0.7</text>
<text transform="translate(33.2,429.28) rotate(0.03)" text-anchor="end" font-size="9.4" font-family="Liberation Sans, sans-serif" stroke="#000" stroke-width="0.18" fill="#000">0.8</text>
<text transform="translate(33.2,416.54) rotate(0.03)" text-anchor="end" font-size="9.4" font-family="Liberation Sans, sans-serif" stroke="#000" stroke-width="0.18" fill="#000">0.9</text>
<text transform="translate(33.9,403.80) rotate(0.03)" text-anchor="end" font-size="9.4" font-family="Liberation Sans, sans-serif" stroke="#000" stroke-width="0.18" fill="#000">1</text>
<text transform="translate(46.1,517.0) rotate(0.03)" text-anchor="middle" font-size="9.4" font-family="Liberation Sans, sans-serif" stroke="#000" stroke-width="0.18" fill="#000">0.2</text>
<text transform="translate(73.1,517.0) rotate(0.03)" text-anchor="middle" font-size="9.4" font-family="Liberation Sans, sans-serif" stroke="#000" stroke-width="0.18" fill="#000">0.4</text>
<text transform="translate(100.1,517.0) rotate(0.03)" text-anchor="middle" font-size="9.4" font-family="Liberation Sans, sans-serif" stroke="#000" stroke-width="0.18" fill="#000">0.6</text>
<text transform="translate(127.1,517.0) rotate(0.03)" text-anchor="middle" font-size="9.4" font-family="Liberation Sans, sans-serif" stroke="#000" stroke-width="0.18" fill="#000">0.8</text>
<text transform="translate(154.1,517.0) rotate(0.03)" text-anchor="middle" font-size="9.4" font-family="Liberation Sans, sans-serif" stroke="#000" stroke-width="0.18" fill="#000">1</text>
<text transform="translate(181.1,517.0) rotate(0.03)" text-anchor="middle" font-size="9.4" font-family="Liberation Sans, sans-serif" stroke="#000" stroke-width="0.18" fill="#000">1.2</text>
<text transform="translate(203.2,527.8) rotate(0.03)" text-anchor="end" font-size="11.0" font-family="Liberation Sans, sans-serif" stroke="#000" stroke-width="0.18" fill="#000">n<tspan font-size="7.4" dy="4.3">B</tspan><tspan dy="-4.3" dx="0.6"> (fm</tspan><tspan font-size="7.4" dy="-4.6">-3</tspan><tspan dy="4.6" dx="-0.4">)</tspan></text>
<text transform="translate(215.5,517.0) rotate(0.03)" text-anchor="middle" font-size="9.4" font-family="Liberation Sans, sans-serif" stroke="#000" stroke-width="0.18" fill="#000">0.2</text>
<text transform="translate(242.5,517.0) rotate(0.03)" text-anchor="middle" font-size="9.4" font-family="Liberation Sans, sans-serif" stroke="#000" stroke-width="0.18" fill="#000">0.4</text>
<text transform="translate(269.5,517.0) rotate(0.03)" text-anchor="middle" font-size="9.4" font-family="Liberation Sans, sans-serif" stroke="#000" stroke-width="0.18" fill="#000">0.6</text>
<text transform="translate(296.5,517.0) rotate(0.03)" text-anchor="middle" font-size="9.4" font-family="Liberation Sans, sans-serif" stroke="#000" stroke-width="0.18" fill="#000">0.8</text>
<text transform="translate(323.5,517.0) rotate(0.03)" text-anchor="middle" font-size="9.4" font-family="Liberation Sans, sans-serif" stroke="#000" stroke-width="0.18" fill="#000">1</text>
<text transform="translate(350.5,517.0) rotate(0.03)" text-anchor="middle" font-size="9.4" font-family="Liberation Sans, sans-serif" stroke="#000" stroke-width="0.18" fill="#000">1.2</text>
<text transform="translate(372.6,527.8) rotate(0.03)" text-anchor="end" font-size="11.0" font-family="Liberation Sans, sans-serif" stroke="#000" stroke-width="0.18" fill="#000">n<tspan font-size="7.4" dy="4.3">B</tspan><tspan dy="-4.3" dx="0.6"> (fm</tspan><tspan font-size="7.4" dy="-4.6">-3</tspan><tspan dy="4.6" dx="-0.4">)</tspan></text>
<text transform="translate(9.80,370.40) rotate(-90) scale(0.87,1)" font-size="15.00" font-family="Liberation Sans, sans-serif" stroke="#000" stroke-width="0.18" fill="#000">m</text>
<text transform="translate(13.40,358.30) rotate(-90) scale(1,1)" font-size="8.40" letter-spacing="0.350" font-family="Liberation Sans, sans-serif" stroke="#000" stroke-width="0.18" fill="#000">eff;</text>
<text transform="translate(13.40,346.00) rotate(-90) scale(1,1)" font-size="8.40" letter-spacing="0.050" font-family="Liberation Sans, sans-serif" stroke="#000" stroke-width="0.18" fill="#000">&#160;Landau</text>
<text transform="translate(8.80,315.20) rotate(-90) scale(0.8,1)" font-size="15.00" font-family="Liberation Sans, sans-serif" stroke="#000" stroke-width="0.18" fill="#000">/</text>
<text transform="translate(9.80,311.50) rotate(-90) scale(0.87,1)" font-size="15.00" font-family="Liberation Sans, sans-serif" stroke="#000" stroke-width="0.18" fill="#000">m</text>
<text transform="translate(13.80,300.10) rotate(-90) scale(1,1)" font-size="8.40" letter-spacing="0.200" font-family="Liberation Sans, sans-serif" stroke="#000" stroke-width="0.18" fill="#000">bare</text>
<text transform="translate(12.10,490.00) rotate(-90) scale(0.87,1)" font-size="15.57" font-family="Liberation Sans, sans-serif" stroke="#000" stroke-width="0.18" fill="#000">m</text>
<text transform="translate(15.84,477.44) rotate(-90) scale(1,1)" font-size="8.72" letter-spacing="0.363" font-family="Liberation Sans, sans-serif" stroke="#000" stroke-width="0.18" fill="#000">eff;</text>
<text transform="translate(15.84,464.67) rotate(-90) scale(1,1)" font-size="8.72" letter-spacing="0.052" font-family="Liberation Sans, sans-serif" stroke="#000" stroke-width="0.18" fill="#000">&#160;Landau</text>
<text transform="translate(11.06,432.70) rotate(-90) scale(0.8,1)" font-size="15.57" font-family="Liberation Sans, sans-serif" stroke="#000" stroke-width="0.18" fill="#000">/</text>
<text transform="translate(12.10,428.86) rotate(-90) scale(0.87,1)" font-size="15.57" font-family="Liberation Sans, sans-serif" stroke="#000" stroke-width="0.18" fill="#000">m</text>
<text transform="translate(16.25,417.02) rotate(-90) scale(1,1)" font-size="8.72" letter-spacing="0.208" font-family="Liberation Sans, sans-serif" stroke="#000" stroke-width="0.18" fill="#000">bare</text>
<line x1="276.9" y1="288.05" x2="302" y2="288.05" stroke="#d46a6a" stroke-width="1.3"/>
<text transform="translate(306.8,290.65) rotate(0.03) scale(0.92,1)" font-size="7.7" font-family="Liberation Sans, sans-serif" stroke="#000" stroke-width="0.18" fill="#000">SHO(FSUgold2.1)</text>
<line x1="276.9" y1="299.9" x2="302" y2="299.9" stroke="#a550ff" stroke-width="1.9" stroke-dasharray="2.1 1.95"/>
<text transform="translate(306.8,302.50) rotate(0.03) scale(0.92,1)" font-size="7.7" font-family="Liberation Sans, sans-serif" stroke="#000" stroke-width="0.18" fill="#000">SNSH(TM1e)</text>
<line x1="276.9" y1="311.6" x2="302" y2="311.6" stroke="#00f0ff" stroke-width="1.5" stroke-dasharray="2.1 2.5 0.8 2.55"/>
<text transform="translate(306.8,314.20) rotate(0.03) scale(0.92,1)" font-size="7.7" font-family="Liberation Sans, sans-serif" stroke="#000" stroke-width="0.18" fill="#000">HS(DD2)</text>
<line x1="276.9" y1="323.3" x2="302" y2="323.3" stroke="#00ea3c" stroke-width="1.35" stroke-dasharray="7 3.8 1.3 4"/>
<text transform="translate(306.8,325.90) rotate(0.03) scale(0.92,1)" font-size="7.7" font-family="Liberation Sans, sans-serif" stroke="#000" stroke-width="0.18" fill="#000">HS(IUF)</text>
<line x1="276.9" y1="335.45" x2="302" y2="335.45" stroke="#ff9900" stroke-width="1.35" stroke-dasharray="10.1 6 2.1 5.9 2.1 5.9 2.1 5.9"/>
<text transform="translate(306.8,338.05) rotate(0.03) scale(0.92,1)" font-size="7.7" font-family="Liberation Sans, sans-serif" stroke="#000" stroke-width="0.18" fill="#000">SFH(SFHo)</text>
<line x1="276.9" y1="347.1" x2="302" y2="347.1" stroke="#6f8fd8" stroke-width="1.35" stroke-dasharray="7 6.2"/>
<text transform="translate(306.8,349.70) rotate(0.03) scale(0.92,1)" font-size="7.7" font-family="Liberation Sans, sans-serif" stroke="#000" stroke-width="0.18" fill="#000">SFH(SFHx)</text>
<line x1="111.1" y1="414.6" x2="138" y2="414.6" stroke="#ff0000" stroke-width="1.3"/>
<text transform="translate(142.7,417.20) rotate(0.03) scale(0.92,1)" font-size="7.7" font-family="Liberation Sans, sans-serif" stroke="#000" stroke-width="0.18" fill="#000">LS(LS220)</text>
<line x1="111.1" y1="428.4" x2="138" y2="428.4" stroke="#00ff00" stroke-width="1.4" stroke-dasharray="2.5 1.5"/>
<text transform="translate(142.7,431.00) rotate(0.03) scale(0.92,1)" font-size="7.7" font-family="Liberation Sans, sans-serif" stroke="#000" stroke-width="0.18" fill="#000">SRO(SLy4)</text>
<line x1="111.1" y1="442.3" x2="138" y2="442.3" stroke="#0000ff" stroke-width="1.4" stroke-dasharray="2.6 2.4 0.7 2.4"/>
<text transform="translate(142.7,444.90) rotate(0.03) scale(0.92,1)" font-size="7.7" font-family="Liberation Sans, sans-serif" stroke="#000" stroke-width="0.18" fill="#000">SRO(KDE0v1)</text>
<line x1="288.3" y1="414.6" x2="314" y2="414.6" stroke="#ff00ff" stroke-width="1.4" stroke-dasharray="7 3.8 1.8 3.6"/>
<text transform="translate(319,417.20) rotate(0.03) scale(0.92,1)" font-size="7.7" font-family="Liberation Sans, sans-serif" stroke="#000" stroke-width="0.18" fill="#000">SRO(SkAPR)</text>
<line x1="288.3" y1="428.4" x2="314" y2="428.4" stroke="#00ffff" stroke-width="1.4" stroke-dasharray="10.1 6 2.1 5.9 2.1 5.9 2.1 5.9"/>
<text transform="translate(319,431.00) rotate(0.03) scale(0.92,1)" font-size="7.7" font-family="Liberation Sans, sans-serif" stroke="#000" stroke-width="0.18" fill="#000">SRO(APR)</text>
<line x1="288.3" y1="442.3" x2="314" y2="442.3" stroke="#5c5cd6" stroke-width="1.4" stroke-dasharray="7 6.8"/>
<text transform="translate(319,444.90) rotate(0.03) scale(0.92,1)" font-size="7.7" font-family="Liberation Sans, sans-serif" stroke="#000" stroke-width="0.18" fill="#000">SRO(NRAPR)</text>
<text transform="translate(46.8,497) rotate(0.03)" font-size="11" font-family="Liberation Serif, serif" font-weight="bold" font-style="italic" stroke="#fff" stroke-width="0.14" paint-order="fill stroke" fill="#000">Y<tspan font-size="8" dy="2.1" dx="-0.5">e</tspan><tspan dy="-2.1">=0.1</tspan></text>
<text transform="translate(84.2,497) rotate(0.03)" font-size="11" font-family="Liberation Serif, serif" font-weight="bold" font-style="italic" stroke="#fff" stroke-width="0.14" paint-order="fill stroke" fill="#000">n</text>
<text transform="translate(216,498) rotate(0.03)" font-size="11" font-family="Liberation Serif, serif" font-weight="bold" font-style="italic" stroke="#fff" stroke-width="0.14" paint-order="fill stroke" fill="#000">p</text>
</svg>
</body></html>
